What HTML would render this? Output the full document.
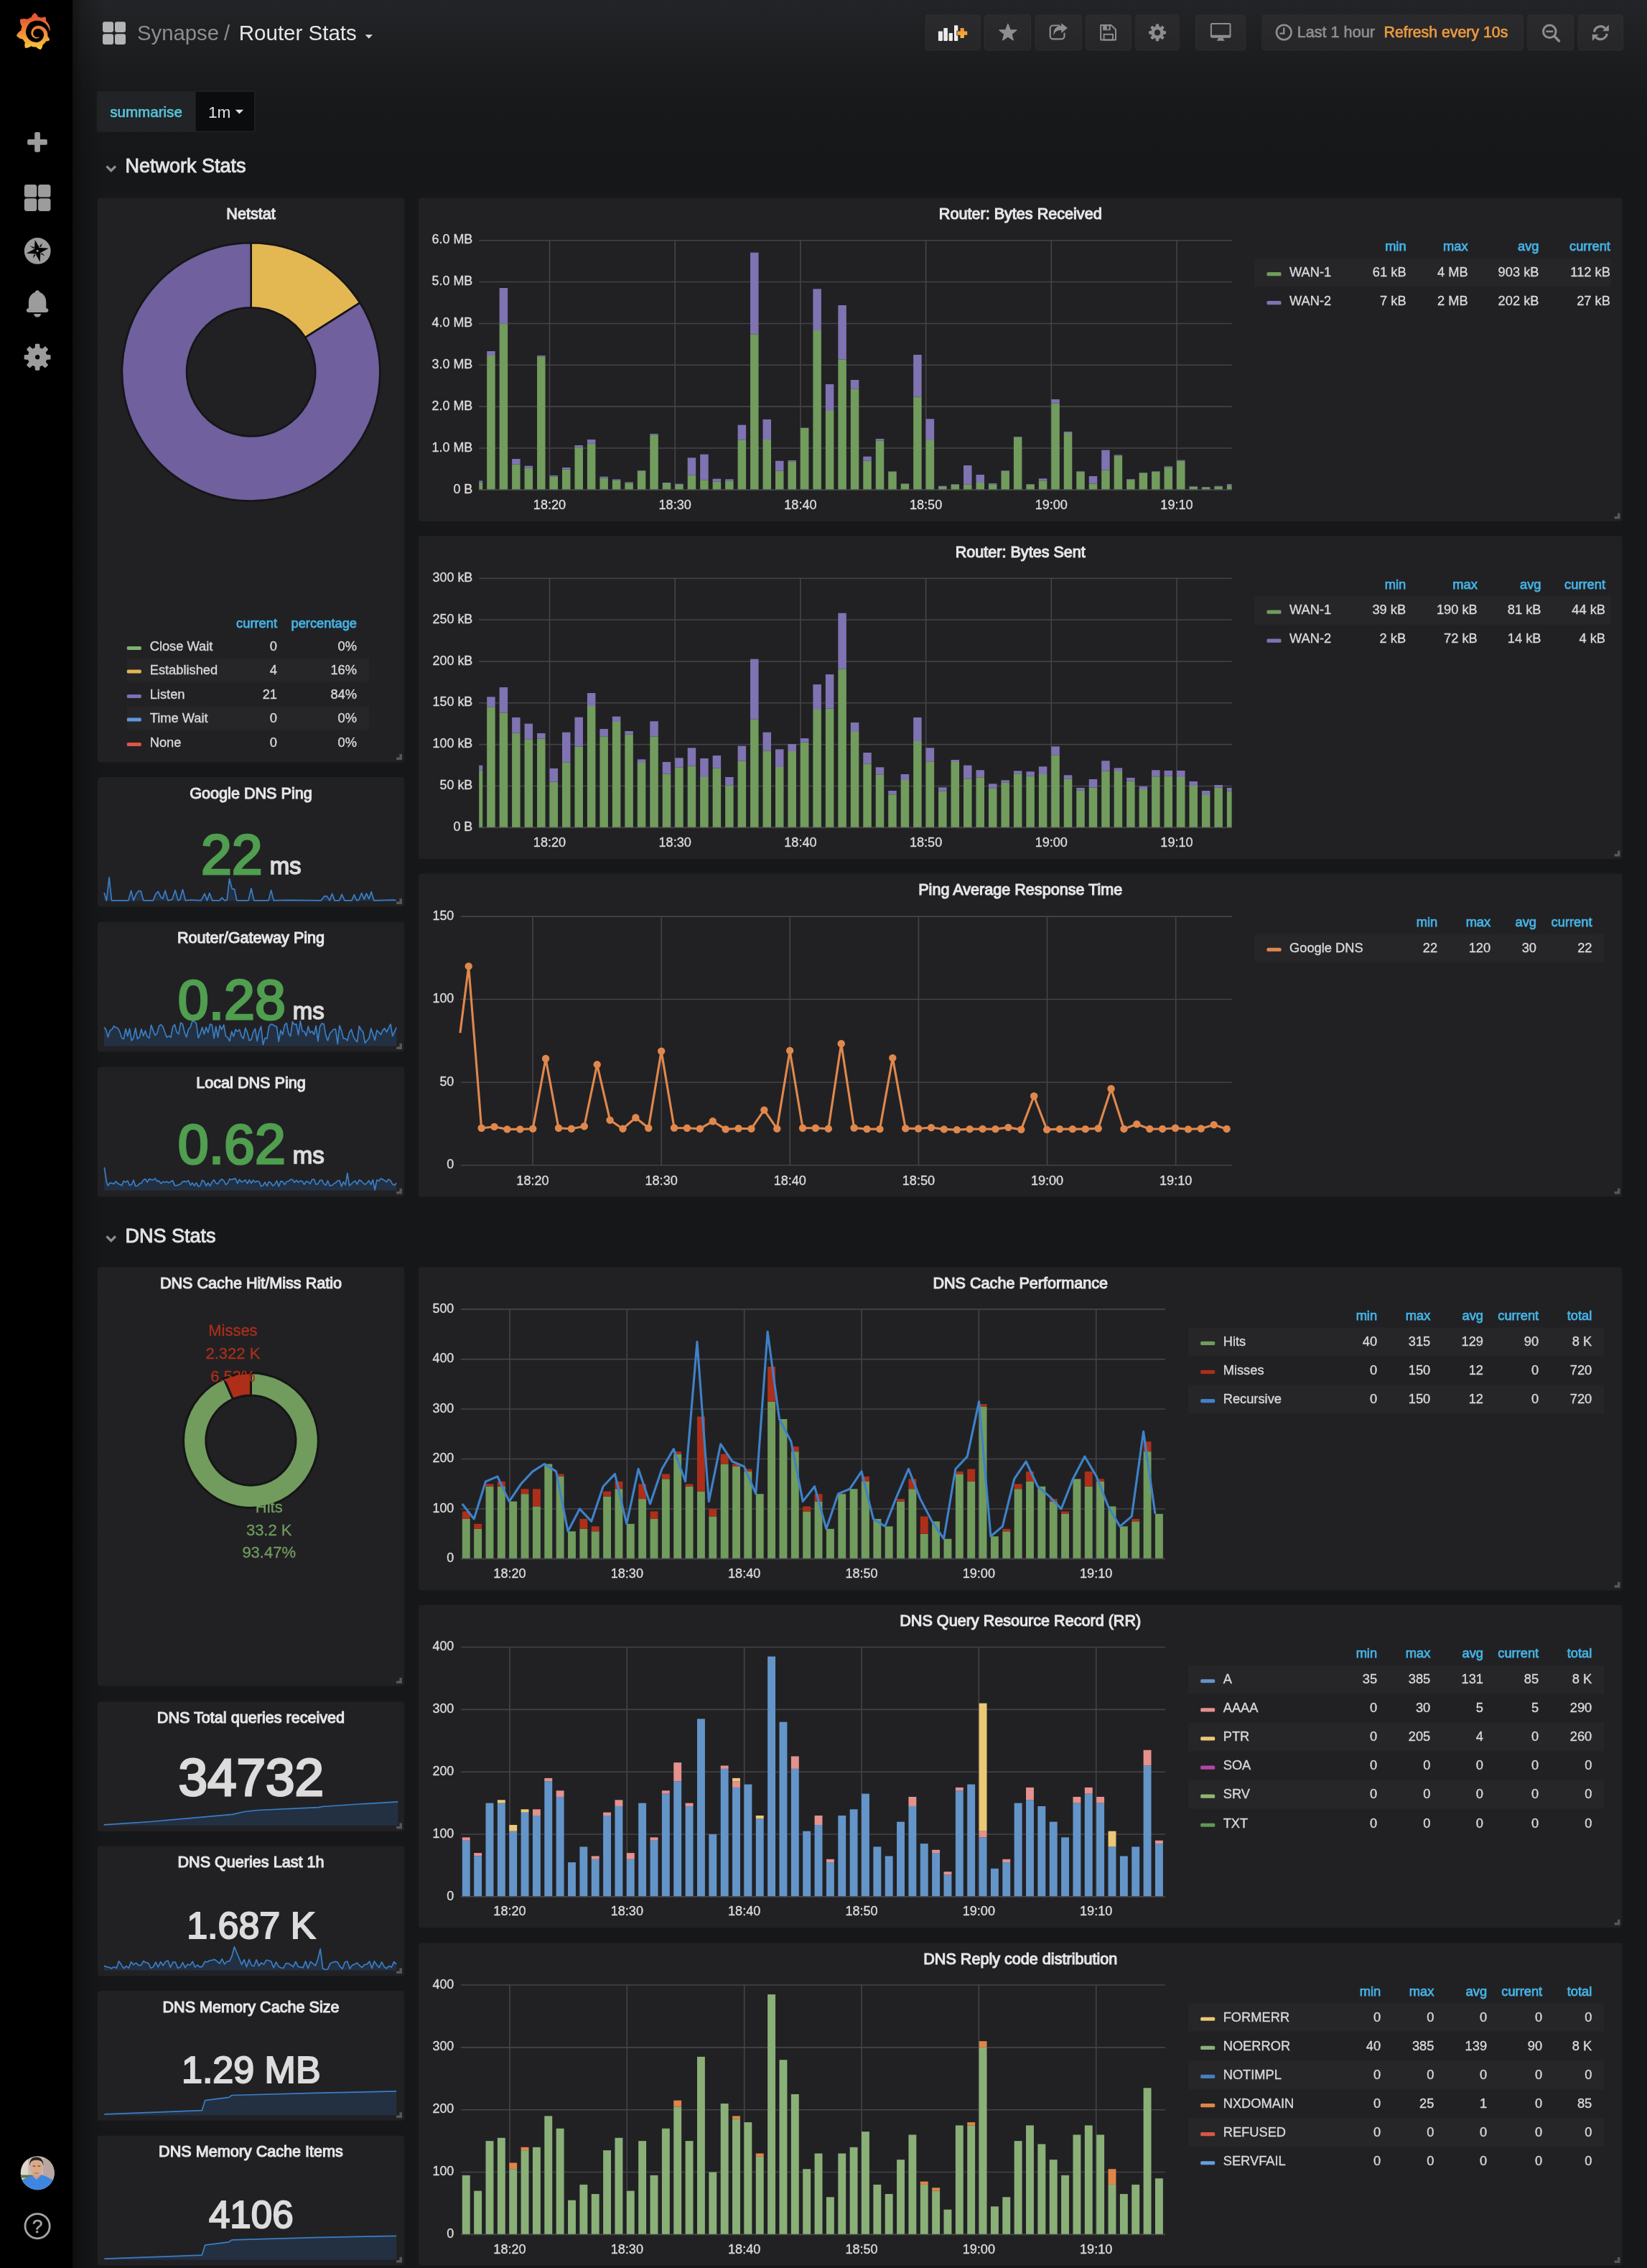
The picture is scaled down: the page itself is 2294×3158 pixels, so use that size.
<!DOCTYPE html><html><head><meta charset="utf-8"><title>Synapse / Router Stats - Grafana</title>
<style>html,body{margin:0;padding:0;}body{width:2294px;height:3158px;overflow:hidden;background:#161719;font-family:"Liberation Sans", sans-serif;position:relative;}
svg{position:absolute;left:0;top:0;will-change:transform;}svg text{font-family:"Liberation Sans", sans-serif;}
#topgrad{position:absolute;left:101px;top:0;width:2193px;height:230px;background:linear-gradient(180deg,#232427 0px,#1d1e20 70px,#18191b 140px,#161719 230px);}
#leftshade{position:absolute;left:101px;top:0;width:46px;height:3158px;background:linear-gradient(90deg,rgba(0,0,0,0.42) 0,rgba(0,0,0,0.18) 14px,rgba(0,0,0,0) 46px);}
#side{position:absolute;left:0;top:0;width:101px;height:3158px;background:#000;}
</style></head><body>
<div id="topgrad"></div><div id="leftshade"></div><div id="side"></div>
<svg width="2294" height="3158" viewBox="0 0 2294 3158">
<defs><linearGradient id="glogo" gradientUnits="userSpaceOnUse" x1="175.5" y1="400" x2="175.5" y2="60"><stop offset="0" stop-color="#fbd83c"/><stop offset="1" stop-color="#e55a33"/></linearGradient><linearGradient id="btng" x1="0" y1="0" x2="0" y2="1"><stop offset="0" stop-color="#2b2b2d"/><stop offset="1" stop-color="#262628"/></linearGradient><linearGradient id="plusg" x1="0" y1="0" x2="0" y2="1"><stop offset="0" stop-color="#ef8e33"/><stop offset="1" stop-color="#f7b645"/></linearGradient><clipPath id="avclip"><circle cx="52.300" cy="3025.700" r="23.500"/></clipPath></defs>
<g transform="translate(21.77 17.94) scale(0.14)"><path d="M342,161.2c-0.6-6.1-1.6-13.1-3.6-20.9c-2-7.7-5-16.2-9.4-25c-4.4-8.8-10.1-17.9-17.5-26.8c-2.9-3.5-6.1-6.9-9.5-10.2c5.1-20.3-6.2-37.9-6.2-37.9c-19.5-1.2-31.9,6.1-36.5,9.4c-0.8-0.3-1.5-0.7-2.3-1c-3.3-1.3-6.7-2.6-10.3-3.7c-3.5-1.1-7.1-2.1-10.8-3c-3.7-0.9-7.4-1.6-11.2-2.2c-0.7-0.1-1.3-0.2-2-0.3c-8.5-27.2-32.9-38.6-32.9-38.6c-27.3,17.3-32.4,41.5-32.4,41.5s-0.1,0.5-0.3,1.4c-1.5,0.4-3,0.9-4.5,1.3c-2.1,0.6-4.2,1.4-6.2,2.2c-2.1,0.8-4.1,1.6-6.2,2.5c-4.1,1.8-8.2,3.8-12.2,6c-3.9,2.2-7.7,4.6-11.4,7.1c-0.5-0.2-1-0.4-1-0.4c-37.8-14.4-71.3,2.9-71.3,2.9c-3.1,40.2,15.1,65.5,18.7,70.1c-0.9,2.5-1.7,5-2.5,7.5c-2.8,9.1-4.9,18.4-6.2,28.1c-0.2,1.4-0.4,2.8-0.5,4.2C18.8,192.7,8.5,228,8.5,228c29.1,33.5,63.1,35.6,63.1,35.6c0,0,0.1-0.1,0.1-0.1c4.3,7.7,9.3,15,14.9,21.9c2.4,2.9,4.8,5.6,7.4,8.3c-10.6,30.4,1.5,55.6,1.5,55.6c32.4,1.2,53.7-14.2,58.2-17.7c3.2,1.1,6.5,2.1,9.8,2.9c10,2.6,20.2,4.1,30.4,4.5c2.5,0.1,5.1,0.2,7.6,0.1l1.2,0l0.8,0l1.6,0l1.6-0.1l0,0.1c15.3,21.8,42.1,24.9,42.1,24.9c19.1-20.1,20.2-40.1,20.2-44.4l0,0c0,0,0-0.1,0-0.3c0-0.4,0-0.6,0-0.6l0,0c0-0.3,0-0.6,0-0.9c4-2.8,7.8-5.8,11.4-9.1c7.6-6.9,14.3-14.8,19.9-23.3c0.5-0.8,1-1.6,1.5-2.4c21.6,1.2,36.9-13.4,36.9-13.4c-3.6-22.5-16.4-33.5-19.1-35.6l0,0c0,0-0.1-0.1-0.3-0.2c-0.2-0.1-0.2-0.2-0.2-0.2c0,0,0,0,0,0c-0.1-0.1-0.3-0.2-0.5-0.3c0.1-1.4,0.2-2.7,0.3-4.1c0.2-2.4,0.2-4.9,0.2-7.3l0-1.8l0-0.9l0-0.5c0-0.6,0-0.4,0-0.6l-0.1-1.5l-0.1-2c0-0.7-0.1-1.3-0.2-1.9c-0.1-0.6-0.1-1.3-0.2-1.9l-0.2-1.9l-0.3-1.9c-0.4-2.5-0.8-4.9-1.4-7.4c-2.3-9.7-6.1-18.9-11-27.2c-5-8.3-11.2-15.6-18.3-21.8c-7-6.2-14.9-11.2-23.1-14.9c-8.3-3.7-16.9-6.1-25.5-7.2c-4.3-0.6-8.6-0.8-12.9-0.7l-1.6,0l-0.4,0c-0.1,0-0.6,0-0.5,0l-0.7,0l-1.6,0.1c-0.6,0-1.2,0.1-1.7,0.1c-2.2,0.2-4.4,0.5-6.5,0.9c-8.6,1.6-16.7,4.7-23.8,9c-7.1,4.3-13.3,9.6-18.3,15.6c-5,6-8.9,12.7-11.6,19.6c-2.7,6.9-4.2,14.1-4.6,21c-0.1,1.7-0.1,3.5-0.1,5.2c0,0.4,0,0.9,0,1.3l0.1,1.4c0.1,0.8,0.1,1.7,0.2,2.5c0.3,3.5,1,6.9,1.9,10.1c1.9,6.5,4.9,12.4,8.6,17.4c3.7,5,8.2,9.1,12.9,12.4c4.7,3.2,9.8,5.5,14.8,7c5,1.5,10,2.1,14.7,2.1c0.6,0,1.2,0,1.7,0c0.3,0,0.6,0,0.9,0c0.3,0,0.6,0,0.9-0.1c0.5,0,1-0.1,1.5-0.1c0.1,0,0.3,0,0.4-0.1l0.5-0.1c0.3,0,0.6-0.1,0.9-0.1c0.6-0.1,1.1-0.2,1.7-0.3c0.6-0.1,1.1-0.2,1.6-0.4c1.1-0.2,2.1-0.6,3.1-0.9c2-0.7,4-1.5,5.7-2.4c1.8-0.9,3.4-2,5-3c0.4-0.3,0.9-0.6,1.3-1c1.6-1.3,1.9-3.7,0.6-5.3c-1.1-1.4-3.1-1.8-4.7-0.9c-0.4,0.2-0.8,0.4-1.2,0.6c-1.4,0.7-2.8,1.3-4.3,1.8c-1.5,0.5-3.1,0.9-4.7,1.2c-0.8,0.1-1.6,0.2-2.5,0.3c-0.4,0-0.8,0.1-1.3,0.1c-0.4,0-0.9,0-1.2,0c-0.4,0-0.8,0-1.2,0c-0.5,0-1,0-1.5-0.1c0,0-0.3,0-0.1,0l-0.2,0l-0.3,0c-0.2,0-0.5,0-0.7-0.1c-0.5-0.1-0.9-0.1-1.4-0.2c-3.7-0.5-7.4-1.6-10.9-3.2c-3.6-1.6-7-3.8-10.1-6.6c-3.1-2.8-5.8-6.1-7.9-9.9c-2.1-3.8-3.6-8-4.3-12.4c-0.3-2.2-0.5-4.5-0.4-6.7c0-0.6,0.1-1.2,0.1-1.8c0,0.2,0-0.1,0-0.1l0-0.2l0-0.5c0-0.3,0.1-0.6,0.1-0.9c0.1-1.2,0.3-2.4,0.5-3.6c1.7-9.6,6.5-19,13.9-26.1c1.9-1.8,3.9-3.4,6-4.9c2.1-1.5,4.4-2.8,6.8-3.9c2.4-1.1,4.8-2,7.4-2.7c2.5-0.7,5.1-1.1,7.8-1.4c1.3-0.1,2.6-0.2,4-0.2c0.4,0,0.6,0,0.9,0l1.1,0l0.7,0c0.3,0,0,0,0.1,0l0.3,0l1.1,0.1c2.9,0.2,5.7,0.6,8.5,1.3c5.6,1.2,11.1,3.3,16.2,6.1c10.2,5.7,18.9,14.5,24.2,25.1c2.7,5.3,4.6,11,5.5,16.9c0.2,1.5,0.4,3,0.5,4.5l0.1,1.1l0.1,1.1c0,0.4,0,0.8,0,1.1c0,0.4,0,0.8,0,1.1l0,1l0,1.1c0,0.7-0.1,1.9-0.1,2.6c-0.1,1.6-0.3,3.3-0.5,4.9c-0.2,1.6-0.5,3.2-0.8,4.8c-0.3,1.6-0.7,3.2-1.1,4.7c-0.8,3.1-1.8,6.2-3,9.3c-2.4,6-5.6,11.8-9.4,17.1c-7.7,10.6-18.2,19.2-30.2,24.7c-6,2.7-12.3,4.7-18.8,5.7c-3.2,0.6-6.5,0.9-9.8,1l-0.6,0l-0.5,0l-1.1,0l-1.6,0l-0.8,0c0.4,0-0.1,0-0.1,0l-0.3,0c-1.8,0-3.5-0.1-5.3-0.3c-7-0.5-13.9-1.8-20.7-3.7c-6.7-1.9-13.2-4.6-19.4-7.8c-12.3-6.6-23.4-15.6-32-26.5c-4.3-5.4-8.1-11.3-11.2-17.4c-3.1-6.1-5.6-12.6-7.4-19.1c-1.8-6.6-2.9-13.3-3.4-20.1l-0.1-1.3l0-0.3l0-0.3l0-0.6l0-1.1l0-0.3l0-0.4l0-0.8l0-1.6l0-0.3c0,0,0,0.1,0-0.1l0-0.6c0-0.8,0-1.7,0-2.5c0.1-3.3,0.4-6.8,0.8-10.2c0.4-3.4,1-6.9,1.7-10.3c0.7-3.4,1.5-6.8,2.5-10.2c1.9-6.7,4.3-13.2,7.1-19.3c5.7-12.2,13.1-23.1,22-31.8c2.2-2.2,4.5-4.2,6.9-6.2c2.4-1.9,4.9-3.7,7.5-5.4c2.5-1.7,5.2-3.2,7.9-4.6c1.3-0.7,2.7-1.4,4.1-2c0.7-0.3,1.4-0.6,2.1-0.9c0.7-0.3,1.4-0.6,2.1-0.9c2.8-1.2,5.7-2.2,8.7-3.1c0.7-0.2,1.5-0.4,2.2-0.7c0.7-0.2,1.5-0.4,2.2-0.6c1.5-0.4,3-0.8,4.5-1.1c0.7-0.2,1.5-0.3,2.3-0.5c0.8-0.2,1.5-0.3,2.3-0.5c0.8-0.1,1.5-0.3,2.3-0.4l1.1-0.2l1.2-0.2c0.8-0.1,1.5-0.2,2.3-0.3c0.9-0.1,1.7-0.2,2.6-0.3c0.7-0.1,1.9-0.2,2.6-0.3c0.5-0.1,1.1-0.1,1.6-0.2l1.1-0.1l0.5-0.1l0.6,0c0.9-0.1,1.7-0.1,2.6-0.2l1.3-0.1c0,0,0.5,0,0.1,0l0.3,0l0.6,0c0.7,0,1.5-0.1,2.2-0.1c2.9-0.1,5.9-0.1,8.8,0c5.8,0.2,11.5,0.9,17,1.9c11.1,2.1,21.5,5.6,31,10.3c9.5,4.6,17.9,10.3,25.3,16.5c0.5,0.4,0.9,0.8,1.4,1.2c0.4,0.4,0.9,0.8,1.3,1.2c0.9,0.8,1.7,1.6,2.6,2.4c0.9,0.8,1.7,1.6,2.5,2.4c0.8,0.8,1.6,1.6,2.4,2.5c3.1,3.3,6,6.6,8.6,10c5.2,6.7,9.4,13.5,12.7,19.9c0.2,0.4,0.4,0.8,0.6,1.2c0.2,0.4,0.4,0.8,0.6,1.2c0.4,0.8,0.8,1.6,1.1,2.4c0.4,0.8,0.7,1.5,1.1,2.3c0.3,0.8,0.7,1.5,1,2.3c1.2,3,2.4,5.9,3.3,8.6c1.5,4.4,2.6,8.3,3.5,11.7c0.3,1.4,1.6,2.3,3,2.1c1.5-0.1,2.6-1.3,2.6-2.8C342.6,170.4,342.5,166.1,342,161.2z" fill="url(#glogo)"/></g>
<rect x="38.2" y="193.9" width="27.6" height="7.9" rx="1.8" fill="#9c9c9c"/><rect x="48.2" y="184.1" width="7.7" height="27.6" rx="1.8" fill="#9c9c9c"/>
<rect x="33.9" y="257" width="17.4" height="17.6" rx="3.4" fill="#9c9c9c"/>
<rect x="53.1" y="257" width="17.4" height="17.6" rx="3.4" fill="#9c9c9c"/>
<rect x="33.9" y="276.3" width="17.4" height="17.6" rx="3.4" fill="#9c9c9c"/>
<rect x="53.1" y="276.3" width="17.4" height="17.6" rx="3.4" fill="#9c9c9c"/>
<circle cx="52.2" cy="349.4" r="18.4" fill="#9c9c9c"/>
<path d="M48.77 334.12L54.98 345.05L67.76 345.7L56.37 351.99L55.72 364.68L49.51 353.57L36.74 352.64L47.85 346.81Z" fill="#000"/>
<path d="M58.96 338.75L54.79 342.73L56.92 344.21Z" fill="#000"/>
<path d="M62.48 355.88L58.03 351.99L57.11 354.03Z" fill="#000"/>
<path d="M45.81 359.77L49.51 355.23L47.39 354.03Z" fill="#000"/>
<path d="M41.83 342.46L46.92 346.16L47.66 344.31Z" fill="#000"/>
<circle cx="52.2" cy="349.4" r="1.4" fill="#9c9c9c"/>
<path d="M52.1 404.2c1.7 0 3 1.2 3.2 2.9c5.6 1.9 9 7 9 13.9v8.3h0.4c1.5 0 2.7 1.2 2.7 2.8s-1.2 2.9-2.7 2.9h-25.2c-1.5 0-2.7-1.3-2.7-2.9s1.2-2.8 2.7-2.8h0.4v-8.3c0-6.9 3.4-12 9-13.9c0.2-1.7 1.5-2.9 3.2-2.9z" fill="#9c9c9c"/>
<path d="M47.2 436.9h9.8a4.9 4.9 0 0 1-9.8 0z" fill="#9c9c9c"/>
<path d="M49.21 484.83L49.72 479.56L54.48 479.56L54.99 484.83L58.87 486.44L62.96 483.07L66.33 486.44L62.96 490.53L64.57 494.41L69.84 494.92L69.84 499.68L64.57 500.19L62.96 504.07L66.33 508.16L62.96 511.53L58.87 508.16L54.99 509.77L54.48 515.04L49.72 515.04L49.21 509.77L45.33 508.16L41.24 511.53L37.87 508.16L41.24 504.07L39.63 500.19L34.36 499.68L34.36 494.92L39.63 494.41L41.24 490.53L37.87 486.44L41.24 483.07L45.33 486.44ZM48.2 497.3a3.9 3.9 0 1 0 7.8 0a3.9 3.9 0 1 0 -7.8 0Z" fill="#9c9c9c" fill-rule="evenodd" stroke="#9c9c9c" stroke-width="1.4" stroke-linejoin="round"/>
<g clip-path="url(#avclip)"><rect x="28" y="3001" width="49" height="50" fill="#c9bcb6"/><rect x="28" y="3001" width="11" height="50" fill="#ddd6cf"/><rect x="60" y="3006" width="17" height="30" fill="#b9a6a2"/><rect x="28" y="3028.500" width="18" height="4" fill="#5d7a3e"/><path d="M28 3052v-14c5-5 10-6.500 16.500-8.500l6.500 3l6.500-4.500c7 2.500 13 5 19.500 10v14z" fill="#3f86e0"/><path d="M45.500 3029.500l5 5.500l6-5.500l-1-6h-9z" fill="#cf9f80"/><ellipse cx="50.600" cy="3018.300" rx="8.600" ry="11" fill="#d9a988"/><path d="M41.300 3016c-0.800-9 3.500-12.600 9.300-12.600s10.400 3.400 9.600 12.600c-1.200-6.500-3.500-8.300-9.600-8.300s-8.300 2-9.300 8.300z" fill="#2b2320"/><path d="M45.800 3016.200h3.600M52.600 3016.200h3.600" stroke="#5a4136" stroke-width="1.200"/><path d="M48 3025.500c1.800 1 3.800 1 5.600 0" stroke="#8a5a48" stroke-width="1" fill="none"/></g>
<circle cx="52.100" cy="3099.700" r="17.100" fill="none" stroke="#a6a6a6" stroke-width="2.800"/>
<text x="52.100" y="3109.200" font-size="26.500" fill="#a6a6a6" stroke="#a6a6a6" stroke-width="0.5" text-anchor="middle">?</text>
<rect x="143" y="30.3" width="15" height="14.8" rx="3" fill="#b4b4b4"/>
<rect x="160" y="30.3" width="15" height="14.8" rx="3" fill="#b4b4b4"/>
<rect x="143" y="47.3" width="15" height="14.8" rx="3" fill="#b4b4b4"/>
<rect x="160" y="47.3" width="15" height="14.8" rx="3" fill="#b4b4b4"/>
<text x="191" y="56.2" font-size="29.3" fill="#8e8e8e">Synapse</text><text x="312" y="56.2" font-size="29.3" fill="#8e8e8e">/</text>
<text x="332.800" y="56.2" font-size="29.5" fill="#e6e6e6">Router Stats</text>
<path d="M508.600 48.3h10.400l-5.200 5.400z" fill="#d8d9da"/>
<rect x="1289.2" y="20.8" width="76" height="49" rx="3.5" fill="url(#btng)" stroke="#2f2f32" stroke-width="1"/>
<rect x="1371.5" y="20.8" width="64" height="49" rx="3.5" fill="url(#btng)" stroke="#2f2f32" stroke-width="1"/>
<rect x="1442.2" y="20.8" width="64" height="49" rx="3.5" fill="url(#btng)" stroke="#2f2f32" stroke-width="1"/>
<rect x="1512.8" y="20.8" width="62.4" height="49" rx="3.5" fill="url(#btng)" stroke="#2f2f32" stroke-width="1"/>
<rect x="1581.8" y="20.8" width="60.4" height="49" rx="3.5" fill="url(#btng)" stroke="#2f2f32" stroke-width="1"/>
<rect x="1665.5" y="20.8" width="69" height="49" rx="3.5" fill="url(#btng)" stroke="#2f2f32" stroke-width="1"/>
<rect x="1758" y="20.8" width="363.2" height="49" rx="3.5" fill="url(#btng)" stroke="#2f2f32" stroke-width="1"/>
<rect x="2127.8" y="20.8" width="63.7" height="49" rx="3.5" fill="url(#btng)" stroke="#2f2f32" stroke-width="1"/>
<rect x="2198.2" y="20.8" width="62.3" height="49" rx="3.5" fill="url(#btng)" stroke="#2f2f32" stroke-width="1"/>
<rect x="1306.9" y="43.4" width="6" height="13.5" rx="0.8" fill="#ececec"/>
<rect x="1314.3" y="39" width="5.6" height="17.9" rx="0.8" fill="#ececec"/>
<rect x="1321.6" y="46" width="5.3" height="10.9" rx="0.8" fill="#ececec"/>
<rect x="1329" y="35.3" width="5.3" height="21.6" rx="0.8" fill="#ececec"/>
<path d="M1337.550 39.100h5.300v4.350h4.350v5.300h-4.350v4.350h-5.300v-4.350h-4.350v-5.300h4.350z" fill="url(#plusg)" stroke="#29292b" stroke-width="1.6" paint-order="stroke"/>
<path d="M1403.9 33.2L1407.02 41.51L1415.88 41.91L1408.94 47.44L1411.31 55.99L1403.9 51.1L1396.49 55.99L1398.86 47.44L1391.92 41.91L1400.78 41.51Z" fill="#8e8e8e" stroke="#8e8e8e" stroke-width="1.2" stroke-linejoin="round"/>
<path d="M1475.500 35.500h-8.800a4 4 0 0 0-4 4v10.800a4 4 0 0 0 4 4h11.800a4 4 0 0 0 4-4v-3.800" fill="none" stroke="#8e8e8e" stroke-width="2.2" stroke-linecap="round"/>
<path d="M1478.200 32.300l8.800 6.800l-8.800 6.800v-3.900c-5.500-0.300-9 1.700-10.600 7.600c-1.100-8.400 3.100-13.100 10.600-13.500z" fill="#8e8e8e"/>
<path d="M1533.200 35.100h14.600l6.200 6.200v14.300h-20.800z" fill="none" stroke="#8e8e8e" stroke-width="2" stroke-linejoin="round"/>
<path d="M1536.200 35.100h10.600v7.200h-10.600z M1541.700 36.300v4.400h2.900v-4.400z" fill="#8e8e8e" fill-rule="evenodd"/>
<rect x="1537.600" y="47.800" width="12.400" height="7.800" fill="none" stroke="#8e8e8e" stroke-width="1.900"/>
<path d="M1610.04 37.23L1610.37 33.92L1613.63 33.92L1613.96 37.23L1616.39 38.24L1618.96 36.12L1621.28 38.44L1619.16 41.01L1620.17 43.44L1623.48 43.77L1623.48 47.03L1620.17 47.36L1619.16 49.79L1621.28 52.36L1618.96 54.68L1616.39 52.56L1613.96 53.57L1613.63 56.88L1610.37 56.88L1610.04 53.57L1607.61 52.56L1605.04 54.68L1602.72 52.36L1604.84 49.79L1603.83 47.36L1600.52 47.03L1600.52 43.77L1603.83 43.44L1604.84 41.01L1602.72 38.44L1605.04 36.12L1607.61 38.24ZM1607.4 45.4a4.6 4.6 0 1 0 9.2 0a4.6 4.6 0 1 0 -9.2 0Z" fill="#8e8e8e" fill-rule="evenodd" stroke="#8e8e8e" stroke-width="1" stroke-linejoin="round"/>
<path d="M1688.200 32h24a2.300 2.300 0 0 1 2.300 2.300v16.100a2.300 2.300 0 0 1-2.300 2.300h-24a2.300 2.300 0 0 1-2.300-2.300v-16.100a2.300 2.300 0 0 1 2.300-2.300zM1687.900 34v14.700h24.600v-14.700z" fill="#8e8e8e" fill-rule="evenodd"/>
<path d="M1697 52.500h6.500l1 3h1v1.300h-10.500v-1.300h1z" fill="#8e8e8e"/>
<circle cx="1788.300" cy="45" r="10.300" fill="none" stroke="#8e8e8e" stroke-width="2.600"/>
<path d="M1788.300 38.600v8h-5.800" fill="none" stroke="#8e8e8e" stroke-width="2.300"/>
<text x="1806.800" y="52.300" font-size="21.600" fill="#8e8e8e" stroke="#8e8e8e" stroke-width="0.7">Last 1 hour</text>
<text x="1927.500" y="52.300" font-size="21.300" fill="#eb9a3f" stroke="#eb9a3f" stroke-width="0.7">Refresh every 10s</text>
<circle cx="2158.300" cy="43.800" r="8.800" fill="none" stroke="#8e8e8e" stroke-width="3"/>
<path d="M2164.800 50.300l6.600 6.600" stroke="#8e8e8e" stroke-width="3.600" stroke-linecap="round"/>
<rect x="2153.300" y="42.500" width="10" height="2.600" fill="#8e8e8e"/>
<path d="M2220.4 44.5A8.9 8.9 0 0 1 2235.71 39.56" fill="none" stroke="#8e8e8e" stroke-width="3.2"/>
<path d="M2238.2 46.9A8.9 8.9 0 0 1 2222.89 51.84" fill="none" stroke="#8e8e8e" stroke-width="3.2"/>
<path d="M2240.800 34.500v8.800h-8.800z" fill="#8e8e8e"/>
<path d="M2217.800 56.900v-8.800h8.800z" fill="#8e8e8e"/>
<rect x="134.700" y="126.700" width="138" height="57" rx="3" fill="#212327"/>
<rect x="272" y="127.200" width="82.800" height="56" rx="2" fill="#0b0c0e" stroke="#262628" stroke-width="1.200"/>
<text x="203.500" y="163" font-size="20.600" fill="#56c7d9" stroke="#56c7d9" stroke-width="0.6" text-anchor="middle">summarise</text>
<text x="290" y="164.300" font-size="22.600" fill="#e3e3e3">1m</text>
<path d="M327.700 152.800h11.400l-5.700 5.800z" fill="#e3e3e3"/>
<path d="M148.500 231.5l6.200 6.200l6.200-6.200" fill="none" stroke="#8e8e8e" stroke-width="3.200" stroke-linejoin="miter"/>
<text x="174.500" y="239.6" font-size="27" fill="#e3e3e3" stroke="#e3e3e3" stroke-width="0.9">Network Stats</text>
<path d="M148.500 1721.5l6.200 6.200l6.200-6.200" fill="none" stroke="#8e8e8e" stroke-width="3.200" stroke-linejoin="miter"/>
<text x="174.500" y="1729.6" font-size="27" fill="#e3e3e3" stroke="#e3e3e3" stroke-width="0.9">DNS Stats</text>
<rect x="136" y="275.5" width="427" height="786" fill="#212124" rx="3.5"/>
<text x="349.5" y="305.1" font-size="21.6" fill="#e6e6e6" text-anchor="middle" font-weight="normal" stroke="#e6e6e6" stroke-width="1.1" >Netstat</text>
<path d="M559.9 1057.9v-7.8h-3.5v4.300h-4.300v3.500z" fill="#58585b"/>
<rect x="136" y="1082" width="427" height="180.6" fill="#212124" rx="3.5"/>
<text x="349.5" y="1111.6" font-size="21.6" fill="#e6e6e6" text-anchor="middle" font-weight="normal" stroke="#e6e6e6" stroke-width="1.1" >Google DNS Ping</text>
<path d="M559.9 1259v-7.8h-3.5v4.300h-4.300v3.500z" fill="#58585b"/>
<rect x="136" y="1283.8" width="427" height="180.7" fill="#212124" rx="3.5"/>
<text x="349.5" y="1313.4" font-size="21.6" fill="#e6e6e6" text-anchor="middle" font-weight="normal" stroke="#e6e6e6" stroke-width="1.1" >Router/Gateway Ping</text>
<path d="M559.9 1460.9v-7.8h-3.5v4.300h-4.300v3.500z" fill="#58585b"/>
<rect x="136" y="1485.5" width="427" height="180.7" fill="#212124" rx="3.5"/>
<text x="349.5" y="1515.1" font-size="21.6" fill="#e6e6e6" text-anchor="middle" font-weight="normal" stroke="#e6e6e6" stroke-width="1.1" >Local DNS Ping</text>
<path d="M559.9 1662.6v-7.8h-3.5v4.300h-4.300v3.500z" fill="#58585b"/>
<rect x="136" y="1764.3" width="427" height="583.3" fill="#212124" rx="3.5"/>
<text x="349.5" y="1793.9" font-size="21.6" fill="#e6e6e6" text-anchor="middle" font-weight="normal" stroke="#e6e6e6" stroke-width="1.1" >DNS Cache Hit/Miss Ratio</text>
<path d="M559.9 2344v-7.8h-3.5v4.300h-4.300v3.500z" fill="#58585b"/>
<rect x="136" y="2369.2" width="427" height="180.8" fill="#212124" rx="3.5"/>
<text x="349.5" y="2398.8" font-size="21.6" fill="#e6e6e6" text-anchor="middle" font-weight="normal" stroke="#e6e6e6" stroke-width="1.1" >DNS Total queries received</text>
<path d="M559.9 2546.4v-7.8h-3.5v4.300h-4.300v3.500z" fill="#58585b"/>
<rect x="136" y="2570.6" width="427" height="181" fill="#212124" rx="3.5"/>
<text x="349.5" y="2600.2" font-size="21.6" fill="#e6e6e6" text-anchor="middle" font-weight="normal" stroke="#e6e6e6" stroke-width="1.1" >DNS Queries Last 1h</text>
<path d="M559.9 2748v-7.8h-3.5v4.300h-4.300v3.500z" fill="#58585b"/>
<rect x="136" y="2772" width="427" height="180.7" fill="#212124" rx="3.5"/>
<text x="349.5" y="2801.6" font-size="21.6" fill="#e6e6e6" text-anchor="middle" font-weight="normal" stroke="#e6e6e6" stroke-width="1.1" >DNS Memory Cache Size</text>
<path d="M559.9 2949.1v-7.8h-3.5v4.300h-4.300v3.500z" fill="#58585b"/>
<rect x="136" y="2973.5" width="427" height="180.7" fill="#212124" rx="3.5"/>
<text x="349.5" y="3003.1" font-size="21.6" fill="#e6e6e6" text-anchor="middle" font-weight="normal" stroke="#e6e6e6" stroke-width="1.1" >DNS Memory Cache Items</text>
<path d="M559.9 3150.6v-7.8h-3.5v4.300h-4.300v3.500z" fill="#58585b"/>
<rect x="583" y="275.5" width="1676.5" height="450.5" fill="#212124" rx="3.5"/>
<text x="1421.25" y="305.1" font-size="21.6" fill="#e6e6e6" text-anchor="middle" font-weight="normal" stroke="#e6e6e6" stroke-width="1.1" >Router: Bytes Received</text>
<path d="M2256.4 722.4v-7.8h-3.5v4.300h-4.300v3.500z" fill="#58585b"/>
<rect x="583" y="746" width="1676.5" height="450" fill="#212124" rx="3.5"/>
<text x="1421.25" y="775.6" font-size="21.6" fill="#e6e6e6" text-anchor="middle" font-weight="normal" stroke="#e6e6e6" stroke-width="1.1" >Router: Bytes Sent</text>
<path d="M2256.4 1192.4v-7.8h-3.5v4.300h-4.300v3.500z" fill="#58585b"/>
<rect x="583" y="1216.2" width="1676.5" height="450" fill="#212124" rx="3.5"/>
<text x="1421.25" y="1245.8" font-size="21.6" fill="#e6e6e6" text-anchor="middle" font-weight="normal" stroke="#e6e6e6" stroke-width="1.1" >Ping Average Response Time</text>
<path d="M2256.4 1662.6v-7.8h-3.5v4.300h-4.300v3.500z" fill="#58585b"/>
<rect x="583" y="1764.3" width="1676.5" height="450" fill="#212124" rx="3.5"/>
<text x="1421.25" y="1793.9" font-size="21.6" fill="#e6e6e6" text-anchor="middle" font-weight="normal" stroke="#e6e6e6" stroke-width="1.1" >DNS Cache Performance</text>
<path d="M2256.4 2210.7v-7.8h-3.5v4.300h-4.300v3.500z" fill="#58585b"/>
<rect x="583" y="2234.7" width="1676.5" height="449.5" fill="#212124" rx="3.5"/>
<text x="1421.25" y="2264.3" font-size="21.6" fill="#e6e6e6" text-anchor="middle" font-weight="normal" stroke="#e6e6e6" stroke-width="1.1" >DNS Query Resource Record (RR)</text>
<path d="M2256.4 2680.6v-7.8h-3.5v4.300h-4.300v3.500z" fill="#58585b"/>
<rect x="583" y="2705.2" width="1676.5" height="449.3" fill="#212124" rx="3.5"/>
<text x="1421.25" y="2734.8" font-size="21.6" fill="#e6e6e6" text-anchor="middle" font-weight="normal" stroke="#e6e6e6" stroke-width="1.1" >DNS Reply code distribution</text>
<path d="M2256.4 3150.9v-7.8h-3.5v4.300h-4.300v3.500z" fill="#58585b"/>
<line x1="667.2" y1="681.9" x2="1715.6" y2="681.9" stroke="#444447" stroke-width="1.6"/>
<text x="658.3" y="686.5" font-size="17.9" fill="#dcdcdc" text-anchor="end" font-weight="normal" stroke="#dcdcdc" stroke-width="0.35" >0 B</text>
<line x1="667.2" y1="624.03" x2="1715.6" y2="624.03" stroke="#444447" stroke-width="1.6"/>
<text x="658.3" y="628.63" font-size="17.9" fill="#dcdcdc" text-anchor="end" font-weight="normal" stroke="#dcdcdc" stroke-width="0.35" >1.0 MB</text>
<line x1="667.2" y1="566.17" x2="1715.6" y2="566.17" stroke="#444447" stroke-width="1.6"/>
<text x="658.3" y="570.77" font-size="17.9" fill="#dcdcdc" text-anchor="end" font-weight="normal" stroke="#dcdcdc" stroke-width="0.35" >2.0 MB</text>
<line x1="667.2" y1="508.3" x2="1715.6" y2="508.3" stroke="#444447" stroke-width="1.6"/>
<text x="658.3" y="512.9" font-size="17.9" fill="#dcdcdc" text-anchor="end" font-weight="normal" stroke="#dcdcdc" stroke-width="0.35" >3.0 MB</text>
<line x1="667.2" y1="450.43" x2="1715.6" y2="450.43" stroke="#444447" stroke-width="1.6"/>
<text x="658.3" y="455.03" font-size="17.9" fill="#dcdcdc" text-anchor="end" font-weight="normal" stroke="#dcdcdc" stroke-width="0.35" >4.0 MB</text>
<line x1="667.2" y1="392.57" x2="1715.6" y2="392.57" stroke="#444447" stroke-width="1.6"/>
<text x="658.3" y="397.17" font-size="17.9" fill="#dcdcdc" text-anchor="end" font-weight="normal" stroke="#dcdcdc" stroke-width="0.35" >5.0 MB</text>
<line x1="667.2" y1="334.7" x2="1715.6" y2="334.7" stroke="#444447" stroke-width="1.6"/>
<text x="658.3" y="339.3" font-size="17.9" fill="#dcdcdc" text-anchor="end" font-weight="normal" stroke="#dcdcdc" stroke-width="0.35" >6.0 MB</text>
<line x1="765.5" y1="334.7" x2="765.5" y2="681.9" stroke="#444447" stroke-width="1.6"/>
<text x="765.5" y="709.1" font-size="18.1" fill="#dcdcdc" text-anchor="middle" font-weight="normal" stroke="#dcdcdc" stroke-width="0.35" >18:20</text>
<line x1="940.2" y1="334.7" x2="940.2" y2="681.9" stroke="#444447" stroke-width="1.6"/>
<text x="940.2" y="709.1" font-size="18.1" fill="#dcdcdc" text-anchor="middle" font-weight="normal" stroke="#dcdcdc" stroke-width="0.35" >18:30</text>
<line x1="1114.9" y1="334.7" x2="1114.9" y2="681.9" stroke="#444447" stroke-width="1.6"/>
<text x="1114.9" y="709.1" font-size="18.1" fill="#dcdcdc" text-anchor="middle" font-weight="normal" stroke="#dcdcdc" stroke-width="0.35" >18:40</text>
<line x1="1289.6" y1="334.7" x2="1289.6" y2="681.9" stroke="#444447" stroke-width="1.6"/>
<text x="1289.6" y="709.1" font-size="18.1" fill="#dcdcdc" text-anchor="middle" font-weight="normal" stroke="#dcdcdc" stroke-width="0.35" >18:50</text>
<line x1="1464.3" y1="334.7" x2="1464.3" y2="681.9" stroke="#444447" stroke-width="1.6"/>
<text x="1464.3" y="709.1" font-size="18.1" fill="#dcdcdc" text-anchor="middle" font-weight="normal" stroke="#dcdcdc" stroke-width="0.35" >19:00</text>
<line x1="1639" y1="334.7" x2="1639" y2="681.9" stroke="#444447" stroke-width="1.6"/>
<text x="1639" y="709.1" font-size="18.1" fill="#dcdcdc" text-anchor="middle" font-weight="normal" stroke="#dcdcdc" stroke-width="0.35" >19:10</text>
<clipPath id="c1"><rect x="667.2" y="314.7" width="1048.4" height="367.8"/></clipPath><g clip-path="url(#c1)">
<rect x="660.7" y="671.67" width="11.5" height="10.67" fill="#719c5d" />
<rect x="660.7" y="669.33" width="11.5" height="2.33" fill="#7f73b1" />
<rect x="678.17" y="495" width="11.5" height="187.33" fill="#719c5d" />
<rect x="678.17" y="489" width="11.5" height="6" fill="#7f73b1" />
<rect x="695.64" y="450.67" width="11.5" height="231.67" fill="#719c5d" />
<rect x="695.64" y="401" width="11.5" height="49.67" fill="#7f73b1" />
<rect x="713.11" y="646.67" width="11.5" height="35.67" fill="#719c5d" />
<rect x="713.11" y="639" width="11.5" height="7.67" fill="#7f73b1" />
<rect x="730.58" y="651.67" width="11.5" height="30.67" fill="#719c5d" />
<rect x="730.58" y="648.67" width="11.5" height="3" fill="#7f73b1" />
<rect x="748.05" y="496.33" width="11.5" height="186" fill="#719c5d" />
<rect x="748.05" y="495" width="11.5" height="1.33" fill="#7f73b1" />
<rect x="765.52" y="663.67" width="11.5" height="18.67" fill="#719c5d" />
<rect x="765.52" y="662" width="11.5" height="1.67" fill="#7f73b1" />
<rect x="782.99" y="653.67" width="11.5" height="28.67" fill="#719c5d" />
<rect x="782.99" y="651" width="11.5" height="2.67" fill="#7f73b1" />
<rect x="800.46" y="622.67" width="11.5" height="59.67" fill="#719c5d" />
<rect x="800.46" y="620" width="11.5" height="2.67" fill="#7f73b1" />
<rect x="817.93" y="617.33" width="11.5" height="65" fill="#719c5d" />
<rect x="817.93" y="612" width="11.5" height="5.33" fill="#7f73b1" />
<rect x="835.4" y="665.67" width="11.5" height="16.67" fill="#719c5d" />
<rect x="835.4" y="663.67" width="11.5" height="2" fill="#7f73b1" />
<rect x="852.87" y="668.67" width="11.5" height="13.67" fill="#719c5d" />
<rect x="852.87" y="667.33" width="11.5" height="1.33" fill="#7f73b1" />
<rect x="870.34" y="672.33" width="11.5" height="10" fill="#719c5d" />
<rect x="870.34" y="671.33" width="11.5" height="1" fill="#7f73b1" />
<rect x="887.81" y="655.67" width="11.5" height="26.67" fill="#719c5d" />
<rect x="887.81" y="655" width="11.5" height="0.67" fill="#7f73b1" />
<rect x="905.28" y="605.33" width="11.5" height="77" fill="#719c5d" />
<rect x="905.28" y="604" width="11.5" height="1.33" fill="#7f73b1" />
<rect x="922.75" y="673" width="11.5" height="9.33" fill="#719c5d" />
<rect x="922.75" y="672" width="11.5" height="1" fill="#7f73b1" />
<rect x="940.22" y="675" width="11.5" height="7.33" fill="#719c5d" />
<rect x="940.22" y="673.67" width="11.5" height="1.33" fill="#7f73b1" />
<rect x="957.69" y="661.67" width="11.5" height="20.67" fill="#719c5d" />
<rect x="957.69" y="637.33" width="11.5" height="24.33" fill="#7f73b1" />
<rect x="975.16" y="668.33" width="11.5" height="14" fill="#719c5d" />
<rect x="975.16" y="632.67" width="11.5" height="35.67" fill="#7f73b1" />
<rect x="992.63" y="670.67" width="11.5" height="11.67" fill="#719c5d" />
<rect x="992.63" y="666.67" width="11.5" height="4" fill="#7f73b1" />
<rect x="1010.1" y="669.67" width="11.5" height="12.67" fill="#719c5d" />
<rect x="1010.1" y="667.33" width="11.5" height="2.33" fill="#7f73b1" />
<rect x="1027.57" y="612.67" width="11.5" height="69.67" fill="#719c5d" />
<rect x="1027.57" y="591.67" width="11.5" height="21" fill="#7f73b1" />
<rect x="1045.04" y="465.33" width="11.5" height="217" fill="#719c5d" />
<rect x="1045.04" y="351.67" width="11.5" height="113.67" fill="#7f73b1" />
<rect x="1062.51" y="612" width="11.5" height="70.33" fill="#719c5d" />
<rect x="1062.51" y="584" width="11.5" height="28" fill="#7f73b1" />
<rect x="1079.98" y="655.67" width="11.5" height="26.67" fill="#719c5d" />
<rect x="1079.98" y="641.67" width="11.5" height="14" fill="#7f73b1" />
<rect x="1097.45" y="642.67" width="11.5" height="39.67" fill="#719c5d" />
<rect x="1097.45" y="641" width="11.5" height="1.67" fill="#7f73b1" />
<rect x="1114.92" y="596" width="11.5" height="86.33" fill="#719c5d" />
<rect x="1114.92" y="595.67" width="11.5" height="0.33" fill="#7f73b1" />
<rect x="1132.39" y="460" width="11.5" height="222.33" fill="#719c5d" />
<rect x="1132.39" y="402.33" width="11.5" height="57.67" fill="#7f73b1" />
<rect x="1149.86" y="572" width="11.5" height="110.33" fill="#719c5d" />
<rect x="1149.86" y="535" width="11.5" height="37" fill="#7f73b1" />
<rect x="1167.33" y="500.67" width="11.5" height="181.67" fill="#719c5d" />
<rect x="1167.33" y="425" width="11.5" height="75.67" fill="#7f73b1" />
<rect x="1184.8" y="541.33" width="11.5" height="141" fill="#719c5d" />
<rect x="1184.8" y="529" width="11.5" height="12.33" fill="#7f73b1" />
<rect x="1202.27" y="641.67" width="11.5" height="40.67" fill="#719c5d" />
<rect x="1202.27" y="635.67" width="11.5" height="6" fill="#7f73b1" />
<rect x="1219.74" y="613.67" width="11.5" height="68.67" fill="#719c5d" />
<rect x="1219.74" y="611" width="11.5" height="2.67" fill="#7f73b1" />
<rect x="1237.21" y="656.67" width="11.5" height="25.67" fill="#719c5d" />
<rect x="1237.21" y="656.33" width="11.5" height="0.33" fill="#7f73b1" />
<rect x="1254.68" y="673.67" width="11.5" height="8.67" fill="#719c5d" />
<rect x="1254.68" y="673.33" width="11.5" height="0.33" fill="#7f73b1" />
<rect x="1272.15" y="552.67" width="11.5" height="129.67" fill="#719c5d" />
<rect x="1272.15" y="494" width="11.5" height="58.67" fill="#7f73b1" />
<rect x="1289.62" y="613" width="11.5" height="69.33" fill="#719c5d" />
<rect x="1289.62" y="583.33" width="11.5" height="29.67" fill="#7f73b1" />
<rect x="1307.09" y="678" width="11.5" height="4.33" fill="#719c5d" />
<rect x="1307.09" y="676.67" width="11.5" height="1.33" fill="#7f73b1" />
<rect x="1324.56" y="675" width="11.5" height="7.33" fill="#719c5d" />
<rect x="1324.56" y="674.33" width="11.5" height="0.67" fill="#7f73b1" />
<rect x="1342.03" y="674.67" width="11.5" height="7.67" fill="#719c5d" />
<rect x="1342.03" y="648" width="11.5" height="26.67" fill="#7f73b1" />
<rect x="1359.5" y="672" width="11.5" height="10.33" fill="#719c5d" />
<rect x="1359.5" y="661" width="11.5" height="11" fill="#7f73b1" />
<rect x="1376.97" y="674.33" width="11.5" height="8" fill="#719c5d" />
<rect x="1376.97" y="673" width="11.5" height="1.33" fill="#7f73b1" />
<rect x="1394.44" y="656" width="11.5" height="26.33" fill="#719c5d" />
<rect x="1394.44" y="655.33" width="11.5" height="0.67" fill="#7f73b1" />
<rect x="1411.91" y="608.67" width="11.5" height="73.67" fill="#719c5d" />
<rect x="1411.91" y="608" width="11.5" height="0.67" fill="#7f73b1" />
<rect x="1429.38" y="674.67" width="11.5" height="7.67" fill="#719c5d" />
<rect x="1429.38" y="674" width="11.5" height="0.67" fill="#7f73b1" />
<rect x="1446.85" y="669.33" width="11.5" height="13" fill="#719c5d" />
<rect x="1446.85" y="666.33" width="11.5" height="3" fill="#7f73b1" />
<rect x="1464.32" y="561.67" width="11.5" height="120.67" fill="#719c5d" />
<rect x="1464.32" y="556" width="11.5" height="5.67" fill="#7f73b1" />
<rect x="1481.79" y="603" width="11.5" height="79.33" fill="#719c5d" />
<rect x="1481.79" y="601" width="11.5" height="2" fill="#7f73b1" />
<rect x="1499.26" y="657" width="11.5" height="25.33" fill="#719c5d" />
<rect x="1499.26" y="656.33" width="11.5" height="0.67" fill="#7f73b1" />
<rect x="1516.73" y="673.67" width="11.5" height="8.67" fill="#719c5d" />
<rect x="1516.73" y="663" width="11.5" height="10.67" fill="#7f73b1" />
<rect x="1534.2" y="654.67" width="11.5" height="27.67" fill="#719c5d" />
<rect x="1534.2" y="626.67" width="11.5" height="28" fill="#7f73b1" />
<rect x="1551.67" y="634.67" width="11.5" height="47.67" fill="#719c5d" />
<rect x="1551.67" y="633.33" width="11.5" height="1.33" fill="#7f73b1" />
<rect x="1569.14" y="667.67" width="11.5" height="14.67" fill="#719c5d" />
<rect x="1569.14" y="667" width="11.5" height="0.67" fill="#7f73b1" />
<rect x="1586.61" y="658.67" width="11.5" height="23.67" fill="#719c5d" />
<rect x="1586.61" y="658" width="11.5" height="0.67" fill="#7f73b1" />
<rect x="1604.08" y="657" width="11.5" height="25.33" fill="#719c5d" />
<rect x="1604.08" y="656.33" width="11.5" height="0.67" fill="#7f73b1" />
<rect x="1621.55" y="650.33" width="11.5" height="32" fill="#719c5d" />
<rect x="1621.55" y="649.33" width="11.5" height="1" fill="#7f73b1" />
<rect x="1639.02" y="641.67" width="11.5" height="40.67" fill="#719c5d" />
<rect x="1639.02" y="640.67" width="11.5" height="1" fill="#7f73b1" />
<rect x="1656.49" y="678" width="11.5" height="4.33" fill="#719c5d" />
<rect x="1656.49" y="677.33" width="11.5" height="0.67" fill="#7f73b1" />
<rect x="1673.96" y="678.67" width="11.5" height="3.67" fill="#719c5d" />
<rect x="1673.96" y="678" width="11.5" height="0.67" fill="#7f73b1" />
<rect x="1691.43" y="677.67" width="11.5" height="4.67" fill="#719c5d" />
<rect x="1691.43" y="676.67" width="11.5" height="1" fill="#7f73b1" />
<rect x="1708.9" y="675.67" width="11.5" height="6.67" fill="#719c5d" />
<rect x="1708.9" y="674" width="11.5" height="1.67" fill="#7f73b1" />
</g>
<line x1="667.2" y1="681.9" x2="1715.6" y2="681.9" stroke="#444447" stroke-width="1.3"/>
<text x="1958.6" y="349.2" font-size="18.3" fill="#45b3e5" text-anchor="end" font-weight="normal" stroke="#45b3e5" stroke-width="0.75" >min</text>
<text x="2044.6" y="349.2" font-size="18.3" fill="#45b3e5" text-anchor="end" font-weight="normal" stroke="#45b3e5" stroke-width="0.75" >max</text>
<text x="2143.5" y="349.2" font-size="18.3" fill="#45b3e5" text-anchor="end" font-weight="normal" stroke="#45b3e5" stroke-width="0.75" >avg</text>
<text x="2242.9" y="349.2" font-size="18.3" fill="#45b3e5" text-anchor="end" font-weight="normal" stroke="#45b3e5" stroke-width="0.75" >current</text>
<rect x="1747.5" y="359.5" width="495.8" height="39.6" fill="#262628" />
<rect x="1764.5" y="378.95" width="20" height="5.2" fill="#719c5d" rx="1.5"/>
<text x="1796" y="384.85" font-size="18.3" fill="#d8d9da" text-anchor="start" font-weight="normal" stroke="#d8d9da" stroke-width="0.35" >WAN-1</text>
<text x="1958.6" y="384.85" font-size="18.3" fill="#d8d9da" text-anchor="end" font-weight="normal" stroke="#d8d9da" stroke-width="0.35" >61 kB</text>
<text x="2044.6" y="384.85" font-size="18.3" fill="#d8d9da" text-anchor="end" font-weight="normal" stroke="#d8d9da" stroke-width="0.35" >4 MB</text>
<text x="2143.5" y="384.85" font-size="18.3" fill="#d8d9da" text-anchor="end" font-weight="normal" stroke="#d8d9da" stroke-width="0.35" >903 kB</text>
<text x="2242.9" y="384.85" font-size="18.3" fill="#d8d9da" text-anchor="end" font-weight="normal" stroke="#d8d9da" stroke-width="0.35" >112 kB</text>
<rect x="1764.5" y="419.05" width="20" height="5.2" fill="#7f73b1" rx="1.5"/>
<text x="1796" y="424.95" font-size="18.3" fill="#d8d9da" text-anchor="start" font-weight="normal" stroke="#d8d9da" stroke-width="0.35" >WAN-2</text>
<text x="1958.6" y="424.95" font-size="18.3" fill="#d8d9da" text-anchor="end" font-weight="normal" stroke="#d8d9da" stroke-width="0.35" >7 kB</text>
<text x="2044.6" y="424.95" font-size="18.3" fill="#d8d9da" text-anchor="end" font-weight="normal" stroke="#d8d9da" stroke-width="0.35" >2 MB</text>
<text x="2143.5" y="424.95" font-size="18.3" fill="#d8d9da" text-anchor="end" font-weight="normal" stroke="#d8d9da" stroke-width="0.35" >202 kB</text>
<text x="2242.9" y="424.95" font-size="18.3" fill="#d8d9da" text-anchor="end" font-weight="normal" stroke="#d8d9da" stroke-width="0.35" >27 kB</text>
<line x1="667.2" y1="1152.4" x2="1715.6" y2="1152.4" stroke="#444447" stroke-width="1.6"/>
<text x="658.3" y="1157" font-size="17.9" fill="#dcdcdc" text-anchor="end" font-weight="normal" stroke="#dcdcdc" stroke-width="0.35" >0 B</text>
<line x1="667.2" y1="1094.53" x2="1715.6" y2="1094.53" stroke="#444447" stroke-width="1.6"/>
<text x="658.3" y="1099.13" font-size="17.9" fill="#dcdcdc" text-anchor="end" font-weight="normal" stroke="#dcdcdc" stroke-width="0.35" >50 kB</text>
<line x1="667.2" y1="1036.67" x2="1715.6" y2="1036.67" stroke="#444447" stroke-width="1.6"/>
<text x="658.3" y="1041.27" font-size="17.9" fill="#dcdcdc" text-anchor="end" font-weight="normal" stroke="#dcdcdc" stroke-width="0.35" >100 kB</text>
<line x1="667.2" y1="978.8" x2="1715.6" y2="978.8" stroke="#444447" stroke-width="1.6"/>
<text x="658.3" y="983.4" font-size="17.9" fill="#dcdcdc" text-anchor="end" font-weight="normal" stroke="#dcdcdc" stroke-width="0.35" >150 kB</text>
<line x1="667.2" y1="920.93" x2="1715.6" y2="920.93" stroke="#444447" stroke-width="1.6"/>
<text x="658.3" y="925.53" font-size="17.9" fill="#dcdcdc" text-anchor="end" font-weight="normal" stroke="#dcdcdc" stroke-width="0.35" >200 kB</text>
<line x1="667.2" y1="863.07" x2="1715.6" y2="863.07" stroke="#444447" stroke-width="1.6"/>
<text x="658.3" y="867.67" font-size="17.9" fill="#dcdcdc" text-anchor="end" font-weight="normal" stroke="#dcdcdc" stroke-width="0.35" >250 kB</text>
<line x1="667.2" y1="805.2" x2="1715.6" y2="805.2" stroke="#444447" stroke-width="1.6"/>
<text x="658.3" y="809.8" font-size="17.9" fill="#dcdcdc" text-anchor="end" font-weight="normal" stroke="#dcdcdc" stroke-width="0.35" >300 kB</text>
<line x1="765.5" y1="805.2" x2="765.5" y2="1152.4" stroke="#444447" stroke-width="1.6"/>
<text x="765.5" y="1178.8" font-size="18.1" fill="#dcdcdc" text-anchor="middle" font-weight="normal" stroke="#dcdcdc" stroke-width="0.35" >18:20</text>
<line x1="940.2" y1="805.2" x2="940.2" y2="1152.4" stroke="#444447" stroke-width="1.6"/>
<text x="940.2" y="1178.8" font-size="18.1" fill="#dcdcdc" text-anchor="middle" font-weight="normal" stroke="#dcdcdc" stroke-width="0.35" >18:30</text>
<line x1="1114.9" y1="805.2" x2="1114.9" y2="1152.4" stroke="#444447" stroke-width="1.6"/>
<text x="1114.9" y="1178.8" font-size="18.1" fill="#dcdcdc" text-anchor="middle" font-weight="normal" stroke="#dcdcdc" stroke-width="0.35" >18:40</text>
<line x1="1289.6" y1="805.2" x2="1289.6" y2="1152.4" stroke="#444447" stroke-width="1.6"/>
<text x="1289.6" y="1178.8" font-size="18.1" fill="#dcdcdc" text-anchor="middle" font-weight="normal" stroke="#dcdcdc" stroke-width="0.35" >18:50</text>
<line x1="1464.3" y1="805.2" x2="1464.3" y2="1152.4" stroke="#444447" stroke-width="1.6"/>
<text x="1464.3" y="1178.8" font-size="18.1" fill="#dcdcdc" text-anchor="middle" font-weight="normal" stroke="#dcdcdc" stroke-width="0.35" >19:00</text>
<line x1="1639" y1="805.2" x2="1639" y2="1152.4" stroke="#444447" stroke-width="1.6"/>
<text x="1639" y="1178.8" font-size="18.1" fill="#dcdcdc" text-anchor="middle" font-weight="normal" stroke="#dcdcdc" stroke-width="0.35" >19:10</text>
<clipPath id="c2"><rect x="667.2" y="785.2" width="1048.4" height="367.8"/></clipPath><g clip-path="url(#c2)">
<rect x="660.7" y="1072.67" width="11.5" height="79.67" fill="#719c5d" />
<rect x="660.7" y="1065.67" width="11.5" height="7" fill="#7f73b1" />
<rect x="678.17" y="984.33" width="11.5" height="168" fill="#719c5d" />
<rect x="678.17" y="970.33" width="11.5" height="14" fill="#7f73b1" />
<rect x="695.64" y="992.67" width="11.5" height="159.67" fill="#719c5d" />
<rect x="695.64" y="957" width="11.5" height="35.67" fill="#7f73b1" />
<rect x="713.11" y="1020.67" width="11.5" height="131.67" fill="#719c5d" />
<rect x="713.11" y="999" width="11.5" height="21.67" fill="#7f73b1" />
<rect x="730.58" y="1029.33" width="11.5" height="123" fill="#719c5d" />
<rect x="730.58" y="1007.67" width="11.5" height="21.67" fill="#7f73b1" />
<rect x="748.05" y="1028.67" width="11.5" height="123.67" fill="#719c5d" />
<rect x="748.05" y="1021" width="11.5" height="7.67" fill="#7f73b1" />
<rect x="765.52" y="1088.67" width="11.5" height="63.67" fill="#719c5d" />
<rect x="765.52" y="1070" width="11.5" height="18.67" fill="#7f73b1" />
<rect x="782.99" y="1061.33" width="11.5" height="91" fill="#719c5d" />
<rect x="782.99" y="1019.67" width="11.5" height="41.67" fill="#7f73b1" />
<rect x="800.46" y="1039.67" width="11.5" height="112.67" fill="#719c5d" />
<rect x="800.46" y="998.67" width="11.5" height="41" fill="#7f73b1" />
<rect x="817.93" y="983" width="11.5" height="169.33" fill="#719c5d" />
<rect x="817.93" y="965" width="11.5" height="18" fill="#7f73b1" />
<rect x="835.4" y="1025.33" width="11.5" height="127" fill="#719c5d" />
<rect x="835.4" y="1015" width="11.5" height="10.33" fill="#7f73b1" />
<rect x="852.87" y="1005" width="11.5" height="147.33" fill="#719c5d" />
<rect x="852.87" y="997.67" width="11.5" height="7.33" fill="#7f73b1" />
<rect x="870.34" y="1022.67" width="11.5" height="129.67" fill="#719c5d" />
<rect x="870.34" y="1018" width="11.5" height="4.67" fill="#7f73b1" />
<rect x="887.81" y="1062" width="11.5" height="90.33" fill="#719c5d" />
<rect x="887.81" y="1057.33" width="11.5" height="4.67" fill="#7f73b1" />
<rect x="905.28" y="1025.67" width="11.5" height="126.67" fill="#719c5d" />
<rect x="905.28" y="1004.33" width="11.5" height="21.33" fill="#7f73b1" />
<rect x="922.75" y="1077.67" width="11.5" height="74.67" fill="#719c5d" />
<rect x="922.75" y="1061" width="11.5" height="16.67" fill="#7f73b1" />
<rect x="940.22" y="1068.67" width="11.5" height="83.67" fill="#719c5d" />
<rect x="940.22" y="1055.33" width="11.5" height="13.33" fill="#7f73b1" />
<rect x="957.69" y="1066.67" width="11.5" height="85.67" fill="#719c5d" />
<rect x="957.69" y="1041.33" width="11.5" height="25.33" fill="#7f73b1" />
<rect x="975.16" y="1082" width="11.5" height="70.33" fill="#719c5d" />
<rect x="975.16" y="1056" width="11.5" height="26" fill="#7f73b1" />
<rect x="992.63" y="1069.67" width="11.5" height="82.67" fill="#719c5d" />
<rect x="992.63" y="1052" width="11.5" height="17.67" fill="#7f73b1" />
<rect x="1010.1" y="1093.33" width="11.5" height="59" fill="#719c5d" />
<rect x="1010.1" y="1082" width="11.5" height="11.33" fill="#7f73b1" />
<rect x="1027.57" y="1059.67" width="11.5" height="92.67" fill="#719c5d" />
<rect x="1027.57" y="1038.67" width="11.5" height="21" fill="#7f73b1" />
<rect x="1045.04" y="1001.67" width="11.5" height="150.67" fill="#719c5d" />
<rect x="1045.04" y="917.67" width="11.5" height="84" fill="#7f73b1" />
<rect x="1062.51" y="1045.33" width="11.5" height="107" fill="#719c5d" />
<rect x="1062.51" y="1019.67" width="11.5" height="25.67" fill="#7f73b1" />
<rect x="1079.98" y="1068" width="11.5" height="84.33" fill="#719c5d" />
<rect x="1079.98" y="1043.33" width="11.5" height="24.67" fill="#7f73b1" />
<rect x="1097.45" y="1046" width="11.5" height="106.33" fill="#719c5d" />
<rect x="1097.45" y="1036" width="11.5" height="10" fill="#7f73b1" />
<rect x="1114.92" y="1033.67" width="11.5" height="118.67" fill="#719c5d" />
<rect x="1114.92" y="1028" width="11.5" height="5.67" fill="#7f73b1" />
<rect x="1132.39" y="988" width="11.5" height="164.33" fill="#719c5d" />
<rect x="1132.39" y="953" width="11.5" height="35" fill="#7f73b1" />
<rect x="1149.86" y="986.67" width="11.5" height="165.67" fill="#719c5d" />
<rect x="1149.86" y="939" width="11.5" height="47.67" fill="#7f73b1" />
<rect x="1167.33" y="931.67" width="11.5" height="220.67" fill="#719c5d" />
<rect x="1167.33" y="853.67" width="11.5" height="78" fill="#7f73b1" />
<rect x="1184.8" y="1019" width="11.5" height="133.33" fill="#719c5d" />
<rect x="1184.8" y="1006" width="11.5" height="13" fill="#7f73b1" />
<rect x="1202.27" y="1063.33" width="11.5" height="89" fill="#719c5d" />
<rect x="1202.27" y="1048" width="11.5" height="15.33" fill="#7f73b1" />
<rect x="1219.74" y="1078.67" width="11.5" height="73.67" fill="#719c5d" />
<rect x="1219.74" y="1068.33" width="11.5" height="10.33" fill="#7f73b1" />
<rect x="1237.21" y="1106.33" width="11.5" height="46" fill="#719c5d" />
<rect x="1237.21" y="1101" width="11.5" height="5.33" fill="#7f73b1" />
<rect x="1254.68" y="1086" width="11.5" height="66.33" fill="#719c5d" />
<rect x="1254.68" y="1078" width="11.5" height="8" fill="#7f73b1" />
<rect x="1272.15" y="1032" width="11.5" height="120.33" fill="#719c5d" />
<rect x="1272.15" y="999" width="11.5" height="33" fill="#7f73b1" />
<rect x="1289.62" y="1060.33" width="11.5" height="92" fill="#719c5d" />
<rect x="1289.62" y="1041.33" width="11.5" height="19" fill="#7f73b1" />
<rect x="1307.09" y="1101.67" width="11.5" height="50.67" fill="#719c5d" />
<rect x="1307.09" y="1096.33" width="11.5" height="5.33" fill="#7f73b1" />
<rect x="1324.56" y="1061" width="11.5" height="91.33" fill="#719c5d" />
<rect x="1324.56" y="1058" width="11.5" height="3" fill="#7f73b1" />
<rect x="1342.03" y="1084.67" width="11.5" height="67.67" fill="#719c5d" />
<rect x="1342.03" y="1065.67" width="11.5" height="19" fill="#7f73b1" />
<rect x="1359.5" y="1082.33" width="11.5" height="70" fill="#719c5d" />
<rect x="1359.5" y="1072.33" width="11.5" height="10" fill="#7f73b1" />
<rect x="1376.97" y="1097.33" width="11.5" height="55" fill="#719c5d" />
<rect x="1376.97" y="1091.33" width="11.5" height="6" fill="#7f73b1" />
<rect x="1394.44" y="1089.67" width="11.5" height="62.67" fill="#719c5d" />
<rect x="1394.44" y="1086.33" width="11.5" height="3.33" fill="#7f73b1" />
<rect x="1411.91" y="1077.33" width="11.5" height="75" fill="#719c5d" />
<rect x="1411.91" y="1073.33" width="11.5" height="4" fill="#7f73b1" />
<rect x="1429.38" y="1080.67" width="11.5" height="71.67" fill="#719c5d" />
<rect x="1429.38" y="1074.33" width="11.5" height="6.33" fill="#7f73b1" />
<rect x="1446.85" y="1078" width="11.5" height="74.33" fill="#719c5d" />
<rect x="1446.85" y="1067.33" width="11.5" height="10.67" fill="#7f73b1" />
<rect x="1464.32" y="1051.33" width="11.5" height="101" fill="#719c5d" />
<rect x="1464.32" y="1039.33" width="11.5" height="12" fill="#7f73b1" />
<rect x="1481.79" y="1084.33" width="11.5" height="68" fill="#719c5d" />
<rect x="1481.79" y="1079.33" width="11.5" height="5" fill="#7f73b1" />
<rect x="1499.26" y="1100.67" width="11.5" height="51.67" fill="#719c5d" />
<rect x="1499.26" y="1097" width="11.5" height="3.67" fill="#7f73b1" />
<rect x="1516.73" y="1096.67" width="11.5" height="55.67" fill="#719c5d" />
<rect x="1516.73" y="1085" width="11.5" height="11.67" fill="#7f73b1" />
<rect x="1534.2" y="1073.67" width="11.5" height="78.67" fill="#719c5d" />
<rect x="1534.2" y="1059.33" width="11.5" height="14.33" fill="#7f73b1" />
<rect x="1551.67" y="1074" width="11.5" height="78.33" fill="#719c5d" />
<rect x="1551.67" y="1069.33" width="11.5" height="4.67" fill="#7f73b1" />
<rect x="1569.14" y="1087.67" width="11.5" height="64.67" fill="#719c5d" />
<rect x="1569.14" y="1083" width="11.5" height="4.67" fill="#7f73b1" />
<rect x="1586.61" y="1099" width="11.5" height="53.33" fill="#719c5d" />
<rect x="1586.61" y="1095" width="11.5" height="4" fill="#7f73b1" />
<rect x="1604.08" y="1081.33" width="11.5" height="71" fill="#719c5d" />
<rect x="1604.08" y="1072.33" width="11.5" height="9" fill="#7f73b1" />
<rect x="1621.55" y="1080.67" width="11.5" height="71.67" fill="#719c5d" />
<rect x="1621.55" y="1073" width="11.5" height="7.67" fill="#7f73b1" />
<rect x="1639.02" y="1082" width="11.5" height="70.33" fill="#719c5d" />
<rect x="1639.02" y="1073" width="11.5" height="9" fill="#7f73b1" />
<rect x="1656.49" y="1094" width="11.5" height="58.33" fill="#719c5d" />
<rect x="1656.49" y="1088" width="11.5" height="6" fill="#7f73b1" />
<rect x="1673.96" y="1107" width="11.5" height="45.33" fill="#719c5d" />
<rect x="1673.96" y="1101" width="11.5" height="6" fill="#7f73b1" />
<rect x="1691.43" y="1096.67" width="11.5" height="55.67" fill="#719c5d" />
<rect x="1691.43" y="1093" width="11.5" height="3.67" fill="#7f73b1" />
<rect x="1708.9" y="1101.67" width="11.5" height="50.67" fill="#719c5d" />
<rect x="1708.9" y="1097" width="11.5" height="4.67" fill="#7f73b1" />
</g>
<line x1="667.2" y1="1152.4" x2="1715.6" y2="1152.4" stroke="#444447" stroke-width="1.3"/>
<text x="1958.2" y="819.7" font-size="18.3" fill="#45b3e5" text-anchor="end" font-weight="normal" stroke="#45b3e5" stroke-width="0.75" >min</text>
<text x="2057.8" y="819.7" font-size="18.3" fill="#45b3e5" text-anchor="end" font-weight="normal" stroke="#45b3e5" stroke-width="0.75" >max</text>
<text x="2146.5" y="819.7" font-size="18.3" fill="#45b3e5" text-anchor="end" font-weight="normal" stroke="#45b3e5" stroke-width="0.75" >avg</text>
<text x="2236" y="819.7" font-size="18.3" fill="#45b3e5" text-anchor="end" font-weight="normal" stroke="#45b3e5" stroke-width="0.75" >current</text>
<rect x="1747.5" y="830" width="495.8" height="39.6" fill="#262628" />
<rect x="1764.5" y="849.45" width="20" height="5.2" fill="#719c5d" rx="1.5"/>
<text x="1796" y="855.35" font-size="18.3" fill="#d8d9da" text-anchor="start" font-weight="normal" stroke="#d8d9da" stroke-width="0.35" >WAN-1</text>
<text x="1958.2" y="855.35" font-size="18.3" fill="#d8d9da" text-anchor="end" font-weight="normal" stroke="#d8d9da" stroke-width="0.35" >39 kB</text>
<text x="2057.8" y="855.35" font-size="18.3" fill="#d8d9da" text-anchor="end" font-weight="normal" stroke="#d8d9da" stroke-width="0.35" >190 kB</text>
<text x="2146.5" y="855.35" font-size="18.3" fill="#d8d9da" text-anchor="end" font-weight="normal" stroke="#d8d9da" stroke-width="0.35" >81 kB</text>
<text x="2236" y="855.35" font-size="18.3" fill="#d8d9da" text-anchor="end" font-weight="normal" stroke="#d8d9da" stroke-width="0.35" >44 kB</text>
<rect x="1764.5" y="889.55" width="20" height="5.2" fill="#7f73b1" rx="1.5"/>
<text x="1796" y="895.45" font-size="18.3" fill="#d8d9da" text-anchor="start" font-weight="normal" stroke="#d8d9da" stroke-width="0.35" >WAN-2</text>
<text x="1958.2" y="895.45" font-size="18.3" fill="#d8d9da" text-anchor="end" font-weight="normal" stroke="#d8d9da" stroke-width="0.35" >2 kB</text>
<text x="2057.8" y="895.45" font-size="18.3" fill="#d8d9da" text-anchor="end" font-weight="normal" stroke="#d8d9da" stroke-width="0.35" >72 kB</text>
<text x="2146.5" y="895.45" font-size="18.3" fill="#d8d9da" text-anchor="end" font-weight="normal" stroke="#d8d9da" stroke-width="0.35" >14 kB</text>
<text x="2236" y="895.45" font-size="18.3" fill="#d8d9da" text-anchor="end" font-weight="normal" stroke="#d8d9da" stroke-width="0.35" >4 kB</text>
<line x1="641.9" y1="1622.5" x2="1715.6" y2="1622.5" stroke="#444447" stroke-width="1.6"/>
<text x="632.3" y="1627.1" font-size="17.9" fill="#dcdcdc" text-anchor="end" font-weight="normal" stroke="#dcdcdc" stroke-width="0.35" >0</text>
<line x1="641.9" y1="1507.03" x2="1715.6" y2="1507.03" stroke="#444447" stroke-width="1.6"/>
<text x="632.3" y="1511.63" font-size="17.9" fill="#dcdcdc" text-anchor="end" font-weight="normal" stroke="#dcdcdc" stroke-width="0.35" >50</text>
<line x1="641.9" y1="1391.57" x2="1715.6" y2="1391.57" stroke="#444447" stroke-width="1.6"/>
<text x="632.3" y="1396.17" font-size="17.9" fill="#dcdcdc" text-anchor="end" font-weight="normal" stroke="#dcdcdc" stroke-width="0.35" >100</text>
<line x1="641.9" y1="1276.1" x2="1715.6" y2="1276.1" stroke="#444447" stroke-width="1.6"/>
<text x="632.3" y="1280.7" font-size="17.9" fill="#dcdcdc" text-anchor="end" font-weight="normal" stroke="#dcdcdc" stroke-width="0.35" >150</text>
<line x1="742" y1="1276.1" x2="742" y2="1622.5" stroke="#444447" stroke-width="1.6"/>
<text x="742" y="1649.7" font-size="18.1" fill="#dcdcdc" text-anchor="middle" font-weight="normal" stroke="#dcdcdc" stroke-width="0.35" >18:20</text>
<line x1="921.14" y1="1276.1" x2="921.14" y2="1622.5" stroke="#444447" stroke-width="1.6"/>
<text x="921.14" y="1649.7" font-size="18.1" fill="#dcdcdc" text-anchor="middle" font-weight="normal" stroke="#dcdcdc" stroke-width="0.35" >18:30</text>
<line x1="1100.28" y1="1276.1" x2="1100.28" y2="1622.5" stroke="#444447" stroke-width="1.6"/>
<text x="1100.28" y="1649.7" font-size="18.1" fill="#dcdcdc" text-anchor="middle" font-weight="normal" stroke="#dcdcdc" stroke-width="0.35" >18:40</text>
<line x1="1279.42" y1="1276.1" x2="1279.42" y2="1622.5" stroke="#444447" stroke-width="1.6"/>
<text x="1279.42" y="1649.7" font-size="18.1" fill="#dcdcdc" text-anchor="middle" font-weight="normal" stroke="#dcdcdc" stroke-width="0.35" >18:50</text>
<line x1="1458.56" y1="1276.1" x2="1458.56" y2="1622.5" stroke="#444447" stroke-width="1.6"/>
<text x="1458.56" y="1649.7" font-size="18.1" fill="#dcdcdc" text-anchor="middle" font-weight="normal" stroke="#dcdcdc" stroke-width="0.35" >19:00</text>
<line x1="1637.7" y1="1276.1" x2="1637.7" y2="1622.5" stroke="#444447" stroke-width="1.6"/>
<text x="1637.7" y="1649.7" font-size="18.1" fill="#dcdcdc" text-anchor="middle" font-weight="normal" stroke="#dcdcdc" stroke-width="0.35" >19:10</text>
<clipPath id="c3"><rect x="637.9" y="1256.1" width="1077.7" height="367"/></clipPath><g clip-path="url(#c3)">
<polyline fill="none" stroke="#e0884c" stroke-width="3.1" stroke-linejoin="round" points="640.9,1438.22 652.72,1345.38 670.61,1570.77 688.51,1568.92 706.41,1572.39 724.3,1572.39 742.2,1571.69 760.1,1474.01 777.99,1570.77 795.89,1571.69 813.79,1568.23 831.69,1482.32 849.58,1559.69 867.48,1571.69 885.38,1556.22 903.27,1570.77 921.17,1463.62 939.07,1570.54 956.96,1570.77 974.86,1571.69 992.76,1561.3 1010.65,1572.39 1028.55,1571.23 1046.45,1571.69 1064.35,1545.6 1082.24,1571.69 1100.14,1462.93 1118.04,1570.77 1135.93,1570.77 1153.83,1571.69 1171.73,1453.23 1189.62,1570.54 1207.52,1572.16 1225.42,1572.16 1243.32,1473.09 1261.21,1571.23 1279.11,1571.46 1297.01,1570.08 1314.9,1572.39 1332.8,1573.08 1350.7,1572.16 1368.6,1571.93 1386.49,1572.16 1404.39,1569.85 1422.29,1572.85 1440.18,1526.2 1458.08,1572.85 1475.98,1572.16 1493.87,1572.16 1511.77,1572.16 1529.67,1571.23 1547.57,1516.04 1565.46,1571.93 1583.36,1565.23 1601.26,1571.93 1619.15,1571.93 1637.05,1570.77 1654.95,1572.39 1672.84,1571.46 1690.74,1566.15 1708.64,1571.93"/>
<circle cx="652.72" cy="1345.38" r="5.2" fill="#e0884c"/>
<circle cx="670.61" cy="1570.77" r="5.2" fill="#e0884c"/>
<circle cx="688.51" cy="1568.92" r="5.2" fill="#e0884c"/>
<circle cx="706.41" cy="1572.39" r="5.2" fill="#e0884c"/>
<circle cx="724.3" cy="1572.39" r="5.2" fill="#e0884c"/>
<circle cx="742.2" cy="1571.69" r="5.2" fill="#e0884c"/>
<circle cx="760.1" cy="1474.01" r="5.2" fill="#e0884c"/>
<circle cx="777.99" cy="1570.77" r="5.2" fill="#e0884c"/>
<circle cx="795.89" cy="1571.69" r="5.2" fill="#e0884c"/>
<circle cx="813.79" cy="1568.23" r="5.2" fill="#e0884c"/>
<circle cx="831.69" cy="1482.32" r="5.2" fill="#e0884c"/>
<circle cx="849.58" cy="1559.69" r="5.2" fill="#e0884c"/>
<circle cx="867.48" cy="1571.69" r="5.2" fill="#e0884c"/>
<circle cx="885.38" cy="1556.22" r="5.2" fill="#e0884c"/>
<circle cx="903.27" cy="1570.77" r="5.2" fill="#e0884c"/>
<circle cx="921.17" cy="1463.62" r="5.2" fill="#e0884c"/>
<circle cx="939.07" cy="1570.54" r="5.2" fill="#e0884c"/>
<circle cx="956.96" cy="1570.77" r="5.2" fill="#e0884c"/>
<circle cx="974.86" cy="1571.69" r="5.2" fill="#e0884c"/>
<circle cx="992.76" cy="1561.3" r="5.2" fill="#e0884c"/>
<circle cx="1010.65" cy="1572.39" r="5.2" fill="#e0884c"/>
<circle cx="1028.55" cy="1571.23" r="5.2" fill="#e0884c"/>
<circle cx="1046.45" cy="1571.69" r="5.2" fill="#e0884c"/>
<circle cx="1064.35" cy="1545.6" r="5.2" fill="#e0884c"/>
<circle cx="1082.24" cy="1571.69" r="5.2" fill="#e0884c"/>
<circle cx="1100.14" cy="1462.93" r="5.2" fill="#e0884c"/>
<circle cx="1118.04" cy="1570.77" r="5.2" fill="#e0884c"/>
<circle cx="1135.93" cy="1570.77" r="5.2" fill="#e0884c"/>
<circle cx="1153.83" cy="1571.69" r="5.2" fill="#e0884c"/>
<circle cx="1171.73" cy="1453.23" r="5.2" fill="#e0884c"/>
<circle cx="1189.62" cy="1570.54" r="5.2" fill="#e0884c"/>
<circle cx="1207.52" cy="1572.16" r="5.2" fill="#e0884c"/>
<circle cx="1225.42" cy="1572.16" r="5.2" fill="#e0884c"/>
<circle cx="1243.32" cy="1473.09" r="5.2" fill="#e0884c"/>
<circle cx="1261.21" cy="1571.23" r="5.2" fill="#e0884c"/>
<circle cx="1279.11" cy="1571.46" r="5.2" fill="#e0884c"/>
<circle cx="1297.01" cy="1570.08" r="5.2" fill="#e0884c"/>
<circle cx="1314.9" cy="1572.39" r="5.2" fill="#e0884c"/>
<circle cx="1332.8" cy="1573.08" r="5.2" fill="#e0884c"/>
<circle cx="1350.7" cy="1572.16" r="5.2" fill="#e0884c"/>
<circle cx="1368.6" cy="1571.93" r="5.2" fill="#e0884c"/>
<circle cx="1386.49" cy="1572.16" r="5.2" fill="#e0884c"/>
<circle cx="1404.39" cy="1569.85" r="5.2" fill="#e0884c"/>
<circle cx="1422.29" cy="1572.85" r="5.2" fill="#e0884c"/>
<circle cx="1440.18" cy="1526.2" r="5.2" fill="#e0884c"/>
<circle cx="1458.08" cy="1572.85" r="5.2" fill="#e0884c"/>
<circle cx="1475.98" cy="1572.16" r="5.2" fill="#e0884c"/>
<circle cx="1493.87" cy="1572.16" r="5.2" fill="#e0884c"/>
<circle cx="1511.77" cy="1572.16" r="5.2" fill="#e0884c"/>
<circle cx="1529.67" cy="1571.23" r="5.2" fill="#e0884c"/>
<circle cx="1547.57" cy="1516.04" r="5.2" fill="#e0884c"/>
<circle cx="1565.46" cy="1571.93" r="5.2" fill="#e0884c"/>
<circle cx="1583.36" cy="1565.23" r="5.2" fill="#e0884c"/>
<circle cx="1601.26" cy="1571.93" r="5.2" fill="#e0884c"/>
<circle cx="1619.15" cy="1571.93" r="5.2" fill="#e0884c"/>
<circle cx="1637.05" cy="1570.77" r="5.2" fill="#e0884c"/>
<circle cx="1654.95" cy="1572.39" r="5.2" fill="#e0884c"/>
<circle cx="1672.84" cy="1571.46" r="5.2" fill="#e0884c"/>
<circle cx="1690.74" cy="1566.15" r="5.2" fill="#e0884c"/>
<circle cx="1708.64" cy="1571.93" r="5.2" fill="#e0884c"/>
</g>
<text x="2002.2" y="1289.9" font-size="18.3" fill="#45b3e5" text-anchor="end" font-weight="normal" stroke="#45b3e5" stroke-width="0.75" >min</text>
<text x="2076.2" y="1289.9" font-size="18.3" fill="#45b3e5" text-anchor="end" font-weight="normal" stroke="#45b3e5" stroke-width="0.75" >max</text>
<text x="2140" y="1289.9" font-size="18.3" fill="#45b3e5" text-anchor="end" font-weight="normal" stroke="#45b3e5" stroke-width="0.75" >avg</text>
<text x="2217.5" y="1289.9" font-size="18.3" fill="#45b3e5" text-anchor="end" font-weight="normal" stroke="#45b3e5" stroke-width="0.75" >current</text>
<rect x="1747.5" y="1300.2" width="486.5" height="39.6" fill="#262628" />
<rect x="1764.5" y="1319.65" width="20" height="5.2" fill="#e0884c" rx="1.5"/>
<text x="1796" y="1325.55" font-size="18.3" fill="#d8d9da" text-anchor="start" font-weight="normal" stroke="#d8d9da" stroke-width="0.35" >Google DNS</text>
<text x="2002.2" y="1325.55" font-size="18.3" fill="#d8d9da" text-anchor="end" font-weight="normal" stroke="#d8d9da" stroke-width="0.35" >22</text>
<text x="2076.2" y="1325.55" font-size="18.3" fill="#d8d9da" text-anchor="end" font-weight="normal" stroke="#d8d9da" stroke-width="0.35" >120</text>
<text x="2140" y="1325.55" font-size="18.3" fill="#d8d9da" text-anchor="end" font-weight="normal" stroke="#d8d9da" stroke-width="0.35" >30</text>
<text x="2217.5" y="1325.55" font-size="18.3" fill="#d8d9da" text-anchor="end" font-weight="normal" stroke="#d8d9da" stroke-width="0.35" >22</text>
<line x1="641.9" y1="2170.5" x2="1622.9" y2="2170.5" stroke="#444447" stroke-width="1.6"/>
<text x="632.3" y="2175.1" font-size="17.9" fill="#dcdcdc" text-anchor="end" font-weight="normal" stroke="#dcdcdc" stroke-width="0.35" >0</text>
<line x1="641.9" y1="2101.02" x2="1622.9" y2="2101.02" stroke="#444447" stroke-width="1.6"/>
<text x="632.3" y="2105.62" font-size="17.9" fill="#dcdcdc" text-anchor="end" font-weight="normal" stroke="#dcdcdc" stroke-width="0.35" >100</text>
<line x1="641.9" y1="2031.54" x2="1622.9" y2="2031.54" stroke="#444447" stroke-width="1.6"/>
<text x="632.3" y="2036.14" font-size="17.9" fill="#dcdcdc" text-anchor="end" font-weight="normal" stroke="#dcdcdc" stroke-width="0.35" >200</text>
<line x1="641.9" y1="1962.06" x2="1622.9" y2="1962.06" stroke="#444447" stroke-width="1.6"/>
<text x="632.3" y="1966.66" font-size="17.9" fill="#dcdcdc" text-anchor="end" font-weight="normal" stroke="#dcdcdc" stroke-width="0.35" >300</text>
<line x1="641.9" y1="1892.58" x2="1622.9" y2="1892.58" stroke="#444447" stroke-width="1.6"/>
<text x="632.3" y="1897.18" font-size="17.9" fill="#dcdcdc" text-anchor="end" font-weight="normal" stroke="#dcdcdc" stroke-width="0.35" >400</text>
<line x1="641.9" y1="1823.1" x2="1622.9" y2="1823.1" stroke="#444447" stroke-width="1.6"/>
<text x="632.3" y="1827.7" font-size="17.9" fill="#dcdcdc" text-anchor="end" font-weight="normal" stroke="#dcdcdc" stroke-width="0.35" >500</text>
<line x1="710" y1="1823.1" x2="710" y2="2170.5" stroke="#444447" stroke-width="1.6"/>
<text x="710" y="2196.6" font-size="18.1" fill="#dcdcdc" text-anchor="middle" font-weight="normal" stroke="#dcdcdc" stroke-width="0.35" >18:20</text>
<line x1="873.34" y1="1823.1" x2="873.34" y2="2170.5" stroke="#444447" stroke-width="1.6"/>
<text x="873.34" y="2196.6" font-size="18.1" fill="#dcdcdc" text-anchor="middle" font-weight="normal" stroke="#dcdcdc" stroke-width="0.35" >18:30</text>
<line x1="1036.68" y1="1823.1" x2="1036.68" y2="2170.5" stroke="#444447" stroke-width="1.6"/>
<text x="1036.68" y="2196.6" font-size="18.1" fill="#dcdcdc" text-anchor="middle" font-weight="normal" stroke="#dcdcdc" stroke-width="0.35" >18:40</text>
<line x1="1200.02" y1="1823.1" x2="1200.02" y2="2170.5" stroke="#444447" stroke-width="1.6"/>
<text x="1200.02" y="2196.6" font-size="18.1" fill="#dcdcdc" text-anchor="middle" font-weight="normal" stroke="#dcdcdc" stroke-width="0.35" >18:50</text>
<line x1="1363.36" y1="1823.1" x2="1363.36" y2="2170.5" stroke="#444447" stroke-width="1.6"/>
<text x="1363.36" y="2196.6" font-size="18.1" fill="#dcdcdc" text-anchor="middle" font-weight="normal" stroke="#dcdcdc" stroke-width="0.35" >19:00</text>
<line x1="1526.7" y1="1823.1" x2="1526.7" y2="2170.5" stroke="#444447" stroke-width="1.6"/>
<text x="1526.7" y="2196.6" font-size="18.1" fill="#dcdcdc" text-anchor="middle" font-weight="normal" stroke="#dcdcdc" stroke-width="0.35" >19:10</text>
<clipPath id="c4"><rect x="641.9" y="1803.1" width="981" height="368"/></clipPath><g clip-path="url(#c4)">
<rect x="643.8" y="2114.92" width="10.9" height="55.58" fill="#719c5d" />
<rect x="643.8" y="2104.49" width="10.9" height="10.42" fill="#ad2f1a" />
<rect x="660.16" y="2128.81" width="10.9" height="41.69" fill="#719c5d" />
<rect x="660.16" y="2121.86" width="10.9" height="6.95" fill="#ad2f1a" />
<rect x="676.52" y="2069.75" width="10.9" height="100.75" fill="#719c5d" />
<rect x="676.52" y="2066.28" width="10.9" height="3.47" fill="#ad2f1a" />
<rect x="692.88" y="2069.75" width="10.9" height="100.75" fill="#719c5d" />
<rect x="692.88" y="2062.81" width="10.9" height="6.95" fill="#ad2f1a" />
<rect x="709.24" y="2090.6" width="10.9" height="79.9" fill="#719c5d" />
<rect x="725.6" y="2080.18" width="10.9" height="90.32" fill="#719c5d" />
<rect x="725.6" y="2073.23" width="10.9" height="6.95" fill="#ad2f1a" />
<rect x="741.95" y="2097.55" width="10.9" height="72.95" fill="#719c5d" />
<rect x="741.95" y="2073.23" width="10.9" height="24.32" fill="#ad2f1a" />
<rect x="758.31" y="2038.49" width="10.9" height="132.01" fill="#719c5d" />
<rect x="774.67" y="2055.86" width="10.9" height="114.64" fill="#719c5d" />
<rect x="774.67" y="2052.38" width="10.9" height="3.47" fill="#ad2f1a" />
<rect x="791.03" y="2132.29" width="10.9" height="38.21" fill="#719c5d" />
<rect x="807.39" y="2128.81" width="10.9" height="41.69" fill="#719c5d" />
<rect x="807.39" y="2114.92" width="10.9" height="13.9" fill="#ad2f1a" />
<rect x="823.75" y="2132.29" width="10.9" height="38.21" fill="#719c5d" />
<rect x="823.75" y="2125.34" width="10.9" height="6.95" fill="#ad2f1a" />
<rect x="840.11" y="2083.65" width="10.9" height="86.85" fill="#719c5d" />
<rect x="840.11" y="2076.7" width="10.9" height="6.95" fill="#ad2f1a" />
<rect x="856.47" y="2073.23" width="10.9" height="97.27" fill="#719c5d" />
<rect x="856.47" y="2062.81" width="10.9" height="10.42" fill="#ad2f1a" />
<rect x="872.83" y="2121.86" width="10.9" height="48.64" fill="#719c5d" />
<rect x="889.18" y="2087.12" width="10.9" height="83.38" fill="#719c5d" />
<rect x="889.18" y="2066.28" width="10.9" height="20.84" fill="#ad2f1a" />
<rect x="905.54" y="2114.92" width="10.9" height="55.58" fill="#719c5d" />
<rect x="905.54" y="2104.49" width="10.9" height="10.42" fill="#ad2f1a" />
<rect x="921.9" y="2059.33" width="10.9" height="111.17" fill="#719c5d" />
<rect x="921.9" y="2052.38" width="10.9" height="6.95" fill="#ad2f1a" />
<rect x="938.26" y="2024.59" width="10.9" height="145.91" fill="#719c5d" />
<rect x="938.26" y="2021.12" width="10.9" height="3.47" fill="#ad2f1a" />
<rect x="954.62" y="2069.75" width="10.9" height="100.75" fill="#719c5d" />
<rect x="954.62" y="2066.28" width="10.9" height="3.47" fill="#ad2f1a" />
<rect x="970.98" y="2076.7" width="10.9" height="93.8" fill="#719c5d" />
<rect x="970.98" y="1972.48" width="10.9" height="104.22" fill="#ad2f1a" />
<rect x="987.34" y="2111.44" width="10.9" height="59.06" fill="#719c5d" />
<rect x="987.34" y="2101.02" width="10.9" height="10.42" fill="#ad2f1a" />
<rect x="1003.7" y="2038.49" width="10.9" height="132.01" fill="#719c5d" />
<rect x="1003.7" y="2024.59" width="10.9" height="13.9" fill="#ad2f1a" />
<rect x="1020.06" y="2041.96" width="10.9" height="128.54" fill="#719c5d" />
<rect x="1020.06" y="2038.49" width="10.9" height="3.47" fill="#ad2f1a" />
<rect x="1036.42" y="2048.91" width="10.9" height="121.59" fill="#719c5d" />
<rect x="1036.42" y="2045.44" width="10.9" height="3.47" fill="#ad2f1a" />
<rect x="1052.78" y="2080.18" width="10.9" height="90.32" fill="#719c5d" />
<rect x="1069.13" y="1951.64" width="10.9" height="218.86" fill="#719c5d" />
<rect x="1069.13" y="1903" width="10.9" height="48.64" fill="#ad2f1a" />
<rect x="1085.49" y="1975.96" width="10.9" height="194.54" fill="#719c5d" />
<rect x="1101.85" y="2021.12" width="10.9" height="149.38" fill="#719c5d" />
<rect x="1101.85" y="2014.17" width="10.9" height="6.95" fill="#ad2f1a" />
<rect x="1118.21" y="2104.49" width="10.9" height="66.01" fill="#719c5d" />
<rect x="1118.21" y="2097.55" width="10.9" height="6.95" fill="#ad2f1a" />
<rect x="1134.57" y="2090.6" width="10.9" height="79.9" fill="#719c5d" />
<rect x="1134.57" y="2080.18" width="10.9" height="10.42" fill="#ad2f1a" />
<rect x="1150.93" y="2128.81" width="10.9" height="41.69" fill="#719c5d" />
<rect x="1167.29" y="2080.18" width="10.9" height="90.32" fill="#719c5d" />
<rect x="1183.65" y="2073.23" width="10.9" height="97.27" fill="#719c5d" />
<rect x="1200.01" y="2062.81" width="10.9" height="107.69" fill="#719c5d" />
<rect x="1200.01" y="2055.86" width="10.9" height="6.95" fill="#ad2f1a" />
<rect x="1216.37" y="2114.92" width="10.9" height="55.58" fill="#719c5d" />
<rect x="1232.72" y="2125.34" width="10.9" height="45.16" fill="#719c5d" />
<rect x="1249.08" y="2090.6" width="10.9" height="79.9" fill="#719c5d" />
<rect x="1249.08" y="2087.12" width="10.9" height="3.47" fill="#ad2f1a" />
<rect x="1265.44" y="2073.23" width="10.9" height="97.27" fill="#719c5d" />
<rect x="1265.44" y="2059.33" width="10.9" height="13.9" fill="#ad2f1a" />
<rect x="1281.8" y="2135.76" width="10.9" height="34.74" fill="#719c5d" />
<rect x="1281.8" y="2111.44" width="10.9" height="24.32" fill="#ad2f1a" />
<rect x="1298.16" y="2118.39" width="10.9" height="52.11" fill="#719c5d" />
<rect x="1314.52" y="2142.71" width="10.9" height="27.79" fill="#719c5d" />
<rect x="1330.88" y="2052.38" width="10.9" height="118.12" fill="#719c5d" />
<rect x="1330.88" y="2048.91" width="10.9" height="3.47" fill="#ad2f1a" />
<rect x="1347.24" y="2062.81" width="10.9" height="107.69" fill="#719c5d" />
<rect x="1347.24" y="2045.44" width="10.9" height="17.37" fill="#ad2f1a" />
<rect x="1363.6" y="1958.59" width="10.9" height="211.91" fill="#719c5d" />
<rect x="1363.6" y="1955.11" width="10.9" height="3.47" fill="#ad2f1a" />
<rect x="1379.95" y="2139.23" width="10.9" height="31.27" fill="#719c5d" />
<rect x="1396.31" y="2132.29" width="10.9" height="38.21" fill="#719c5d" />
<rect x="1396.31" y="2128.81" width="10.9" height="3.47" fill="#ad2f1a" />
<rect x="1412.67" y="2073.23" width="10.9" height="97.27" fill="#719c5d" />
<rect x="1412.67" y="2066.28" width="10.9" height="6.95" fill="#ad2f1a" />
<rect x="1429.03" y="2062.81" width="10.9" height="107.69" fill="#719c5d" />
<rect x="1429.03" y="2048.91" width="10.9" height="13.9" fill="#ad2f1a" />
<rect x="1445.39" y="2069.75" width="10.9" height="100.75" fill="#719c5d" />
<rect x="1461.75" y="2090.6" width="10.9" height="79.9" fill="#719c5d" />
<rect x="1461.75" y="2087.12" width="10.9" height="3.47" fill="#ad2f1a" />
<rect x="1478.11" y="2107.97" width="10.9" height="62.53" fill="#719c5d" />
<rect x="1478.11" y="2104.49" width="10.9" height="3.47" fill="#ad2f1a" />
<rect x="1494.47" y="2059.33" width="10.9" height="111.17" fill="#719c5d" />
<rect x="1510.83" y="2069.75" width="10.9" height="100.75" fill="#719c5d" />
<rect x="1510.83" y="2048.91" width="10.9" height="20.84" fill="#ad2f1a" />
<rect x="1527.19" y="2062.81" width="10.9" height="107.69" fill="#719c5d" />
<rect x="1527.19" y="2059.33" width="10.9" height="3.47" fill="#ad2f1a" />
<rect x="1543.55" y="2097.55" width="10.9" height="72.95" fill="#719c5d" />
<rect x="1559.9" y="2125.34" width="10.9" height="45.16" fill="#719c5d" />
<rect x="1576.26" y="2118.39" width="10.9" height="52.11" fill="#719c5d" />
<rect x="1576.26" y="2114.92" width="10.9" height="3.47" fill="#ad2f1a" />
<rect x="1592.62" y="2021.12" width="10.9" height="149.38" fill="#719c5d" />
<rect x="1592.62" y="2007.22" width="10.9" height="13.9" fill="#ad2f1a" />
<rect x="1608.98" y="2107.97" width="10.9" height="62.53" fill="#719c5d" />
<polyline fill="none" stroke="#3e82c9" stroke-width="3.1" stroke-linejoin="round" points="643.8,2094.07 660.16,2114.92 676.52,2062.81 692.88,2055.86 709.24,2090.6 725.6,2066.28 741.95,2048.91 758.31,2038.49 774.67,2048.91 791.03,2132.29 807.39,2101.02 823.75,2118.39 840.11,2069.75 856.47,2052.38 872.83,2121.86 889.18,2045.44 905.54,2094.07 921.9,2045.44 938.26,2017.64 954.62,2062.81 970.98,1868.26 987.34,2090.6 1003.7,2010.7 1020.06,2035.01 1036.42,2041.96 1052.78,2080.18 1069.13,1854.37 1085.49,1975.96 1101.85,2007.22 1118.21,2090.6 1134.57,2069.75 1150.93,2128.81 1167.29,2080.18 1183.65,2073.23 1200.01,2048.91 1216.37,2114.92 1232.72,2125.34 1249.08,2083.65 1265.44,2045.44 1281.8,2087.12 1298.16,2118.39 1314.52,2142.71 1330.88,2045.44 1347.24,2028.07 1363.6,1951.64 1379.95,2139.23 1396.31,2125.34 1412.67,2059.33 1429.03,2035.01 1445.39,2069.75 1461.75,2083.65 1478.11,2101.02 1494.47,2059.33 1510.83,2028.07 1527.19,2055.86 1543.55,2097.55 1559.9,2125.34 1576.26,2111.44 1592.62,1993.33 1608.98,2107.97"/>
</g>
<line x1="641.9" y1="2170.5" x2="1622.9" y2="2170.5" stroke="#444447" stroke-width="1.3"/>
<text x="1918.1" y="1838" font-size="18.3" fill="#45b3e5" text-anchor="end" font-weight="normal" stroke="#45b3e5" stroke-width="0.75" >min</text>
<text x="1992.3" y="1838" font-size="18.3" fill="#45b3e5" text-anchor="end" font-weight="normal" stroke="#45b3e5" stroke-width="0.75" >max</text>
<text x="2066" y="1838" font-size="18.3" fill="#45b3e5" text-anchor="end" font-weight="normal" stroke="#45b3e5" stroke-width="0.75" >avg</text>
<text x="2143.2" y="1838" font-size="18.3" fill="#45b3e5" text-anchor="end" font-weight="normal" stroke="#45b3e5" stroke-width="0.75" >current</text>
<text x="2217.3" y="1838" font-size="18.3" fill="#45b3e5" text-anchor="end" font-weight="normal" stroke="#45b3e5" stroke-width="0.75" >total</text>
<rect x="1655.2" y="1848.3" width="579" height="39.6" fill="#262628" />
<rect x="1672.2" y="1867.75" width="20" height="5.2" fill="#719c5d" rx="1.5"/>
<text x="1703.7" y="1873.65" font-size="18.3" fill="#d8d9da" text-anchor="start" font-weight="normal" stroke="#d8d9da" stroke-width="0.35" >Hits</text>
<text x="1918.1" y="1873.65" font-size="18.3" fill="#d8d9da" text-anchor="end" font-weight="normal" stroke="#d8d9da" stroke-width="0.35" >40</text>
<text x="1992.3" y="1873.65" font-size="18.3" fill="#d8d9da" text-anchor="end" font-weight="normal" stroke="#d8d9da" stroke-width="0.35" >315</text>
<text x="2066" y="1873.65" font-size="18.3" fill="#d8d9da" text-anchor="end" font-weight="normal" stroke="#d8d9da" stroke-width="0.35" >129</text>
<text x="2143.2" y="1873.65" font-size="18.3" fill="#d8d9da" text-anchor="end" font-weight="normal" stroke="#d8d9da" stroke-width="0.35" >90</text>
<text x="2217.3" y="1873.65" font-size="18.3" fill="#d8d9da" text-anchor="end" font-weight="normal" stroke="#d8d9da" stroke-width="0.35" >8 K</text>
<rect x="1672.2" y="1907.85" width="20" height="5.2" fill="#ad2f1a" rx="1.5"/>
<text x="1703.7" y="1913.75" font-size="18.3" fill="#d8d9da" text-anchor="start" font-weight="normal" stroke="#d8d9da" stroke-width="0.35" >Misses</text>
<text x="1918.1" y="1913.75" font-size="18.3" fill="#d8d9da" text-anchor="end" font-weight="normal" stroke="#d8d9da" stroke-width="0.35" >0</text>
<text x="1992.3" y="1913.75" font-size="18.3" fill="#d8d9da" text-anchor="end" font-weight="normal" stroke="#d8d9da" stroke-width="0.35" >150</text>
<text x="2066" y="1913.75" font-size="18.3" fill="#d8d9da" text-anchor="end" font-weight="normal" stroke="#d8d9da" stroke-width="0.35" >12</text>
<text x="2143.2" y="1913.75" font-size="18.3" fill="#d8d9da" text-anchor="end" font-weight="normal" stroke="#d8d9da" stroke-width="0.35" >0</text>
<text x="2217.3" y="1913.75" font-size="18.3" fill="#d8d9da" text-anchor="end" font-weight="normal" stroke="#d8d9da" stroke-width="0.35" >720</text>
<rect x="1655.2" y="1928.5" width="579" height="39.6" fill="#262628" />
<rect x="1672.2" y="1947.95" width="20" height="5.2" fill="#3e82c9" rx="1.5"/>
<text x="1703.7" y="1953.85" font-size="18.3" fill="#d8d9da" text-anchor="start" font-weight="normal" stroke="#d8d9da" stroke-width="0.35" >Recursive</text>
<text x="1918.1" y="1953.85" font-size="18.3" fill="#d8d9da" text-anchor="end" font-weight="normal" stroke="#d8d9da" stroke-width="0.35" >0</text>
<text x="1992.3" y="1953.85" font-size="18.3" fill="#d8d9da" text-anchor="end" font-weight="normal" stroke="#d8d9da" stroke-width="0.35" >150</text>
<text x="2066" y="1953.85" font-size="18.3" fill="#d8d9da" text-anchor="end" font-weight="normal" stroke="#d8d9da" stroke-width="0.35" >12</text>
<text x="2143.2" y="1953.85" font-size="18.3" fill="#d8d9da" text-anchor="end" font-weight="normal" stroke="#d8d9da" stroke-width="0.35" >0</text>
<text x="2217.3" y="1953.85" font-size="18.3" fill="#d8d9da" text-anchor="end" font-weight="normal" stroke="#d8d9da" stroke-width="0.35" >720</text>
<line x1="641.9" y1="2640.9" x2="1622.9" y2="2640.9" stroke="#444447" stroke-width="1.6"/>
<text x="632.3" y="2645.5" font-size="17.9" fill="#dcdcdc" text-anchor="end" font-weight="normal" stroke="#dcdcdc" stroke-width="0.35" >0</text>
<line x1="641.9" y1="2554.05" x2="1622.9" y2="2554.05" stroke="#444447" stroke-width="1.6"/>
<text x="632.3" y="2558.65" font-size="17.9" fill="#dcdcdc" text-anchor="end" font-weight="normal" stroke="#dcdcdc" stroke-width="0.35" >100</text>
<line x1="641.9" y1="2467.2" x2="1622.9" y2="2467.2" stroke="#444447" stroke-width="1.6"/>
<text x="632.3" y="2471.8" font-size="17.9" fill="#dcdcdc" text-anchor="end" font-weight="normal" stroke="#dcdcdc" stroke-width="0.35" >200</text>
<line x1="641.9" y1="2380.35" x2="1622.9" y2="2380.35" stroke="#444447" stroke-width="1.6"/>
<text x="632.3" y="2384.95" font-size="17.9" fill="#dcdcdc" text-anchor="end" font-weight="normal" stroke="#dcdcdc" stroke-width="0.35" >300</text>
<line x1="641.9" y1="2293.5" x2="1622.9" y2="2293.5" stroke="#444447" stroke-width="1.6"/>
<text x="632.3" y="2298.1" font-size="17.9" fill="#dcdcdc" text-anchor="end" font-weight="normal" stroke="#dcdcdc" stroke-width="0.35" >400</text>
<line x1="710" y1="2293.5" x2="710" y2="2640.9" stroke="#444447" stroke-width="1.6"/>
<text x="710" y="2667" font-size="18.1" fill="#dcdcdc" text-anchor="middle" font-weight="normal" stroke="#dcdcdc" stroke-width="0.35" >18:20</text>
<line x1="873.34" y1="2293.5" x2="873.34" y2="2640.9" stroke="#444447" stroke-width="1.6"/>
<text x="873.34" y="2667" font-size="18.1" fill="#dcdcdc" text-anchor="middle" font-weight="normal" stroke="#dcdcdc" stroke-width="0.35" >18:30</text>
<line x1="1036.68" y1="2293.5" x2="1036.68" y2="2640.9" stroke="#444447" stroke-width="1.6"/>
<text x="1036.68" y="2667" font-size="18.1" fill="#dcdcdc" text-anchor="middle" font-weight="normal" stroke="#dcdcdc" stroke-width="0.35" >18:40</text>
<line x1="1200.02" y1="2293.5" x2="1200.02" y2="2640.9" stroke="#444447" stroke-width="1.6"/>
<text x="1200.02" y="2667" font-size="18.1" fill="#dcdcdc" text-anchor="middle" font-weight="normal" stroke="#dcdcdc" stroke-width="0.35" >18:50</text>
<line x1="1363.36" y1="2293.5" x2="1363.36" y2="2640.9" stroke="#444447" stroke-width="1.6"/>
<text x="1363.36" y="2667" font-size="18.1" fill="#dcdcdc" text-anchor="middle" font-weight="normal" stroke="#dcdcdc" stroke-width="0.35" >19:00</text>
<line x1="1526.7" y1="2293.5" x2="1526.7" y2="2640.9" stroke="#444447" stroke-width="1.6"/>
<text x="1526.7" y="2667" font-size="18.1" fill="#dcdcdc" text-anchor="middle" font-weight="normal" stroke="#dcdcdc" stroke-width="0.35" >19:10</text>
<clipPath id="c5"><rect x="641.9" y="2273.5" width="981" height="368"/></clipPath><g clip-path="url(#c5)">
<rect x="643.8" y="2562.73" width="10.9" height="78.16" fill="#6495c9" />
<rect x="643.8" y="2558.39" width="10.9" height="4.34" fill="#e5918d" />
<rect x="660.16" y="2584.45" width="10.9" height="56.45" fill="#6495c9" />
<rect x="660.16" y="2580.1" width="10.9" height="4.34" fill="#e5918d" />
<rect x="676.52" y="2510.62" width="10.9" height="130.27" fill="#6495c9" />
<rect x="692.88" y="2510.62" width="10.9" height="130.27" fill="#6495c9" />
<rect x="692.88" y="2506.28" width="10.9" height="4.34" fill="#ebc876" />
<rect x="709.24" y="2549.71" width="10.9" height="91.19" fill="#6495c9" />
<rect x="709.24" y="2541.02" width="10.9" height="8.68" fill="#ebc876" />
<rect x="725.6" y="2523.65" width="10.9" height="117.25" fill="#6495c9" />
<rect x="725.6" y="2519.31" width="10.9" height="4.34" fill="#ebc876" />
<rect x="741.95" y="2527.99" width="10.9" height="112.9" fill="#6495c9" />
<rect x="741.95" y="2519.31" width="10.9" height="8.68" fill="#e5918d" />
<rect x="758.31" y="2480.23" width="10.9" height="160.67" fill="#6495c9" />
<rect x="758.31" y="2475.88" width="10.9" height="4.34" fill="#e5918d" />
<rect x="774.67" y="2501.94" width="10.9" height="138.96" fill="#6495c9" />
<rect x="774.67" y="2493.25" width="10.9" height="8.68" fill="#e5918d" />
<rect x="791.03" y="2593.13" width="10.9" height="47.77" fill="#6495c9" />
<rect x="807.39" y="2571.42" width="10.9" height="69.48" fill="#6495c9" />
<rect x="823.75" y="2588.79" width="10.9" height="52.11" fill="#6495c9" />
<rect x="823.75" y="2584.45" width="10.9" height="4.34" fill="#e5918d" />
<rect x="840.11" y="2527.99" width="10.9" height="112.9" fill="#6495c9" />
<rect x="840.11" y="2523.65" width="10.9" height="4.34" fill="#e5918d" />
<rect x="856.47" y="2514.97" width="10.9" height="125.93" fill="#6495c9" />
<rect x="856.47" y="2506.28" width="10.9" height="8.68" fill="#e5918d" />
<rect x="872.83" y="2588.79" width="10.9" height="52.11" fill="#6495c9" />
<rect x="872.83" y="2580.1" width="10.9" height="8.68" fill="#e5918d" />
<rect x="889.18" y="2510.62" width="10.9" height="130.27" fill="#6495c9" />
<rect x="905.54" y="2562.73" width="10.9" height="78.16" fill="#6495c9" />
<rect x="905.54" y="2558.39" width="10.9" height="4.34" fill="#e5918d" />
<rect x="921.9" y="2497.6" width="10.9" height="143.3" fill="#6495c9" />
<rect x="921.9" y="2493.25" width="10.9" height="4.34" fill="#e5918d" />
<rect x="938.26" y="2480.23" width="10.9" height="160.67" fill="#6495c9" />
<rect x="938.26" y="2454.17" width="10.9" height="26.05" fill="#e5918d" />
<rect x="954.62" y="2514.97" width="10.9" height="125.93" fill="#6495c9" />
<rect x="954.62" y="2510.62" width="10.9" height="4.34" fill="#e5918d" />
<rect x="970.98" y="2393.38" width="10.9" height="247.52" fill="#6495c9" />
<rect x="987.34" y="2554.05" width="10.9" height="86.85" fill="#6495c9" />
<rect x="1003.7" y="2462.86" width="10.9" height="178.04" fill="#6495c9" />
<rect x="1003.7" y="2458.51" width="10.9" height="4.34" fill="#e5918d" />
<rect x="1020.06" y="2488.91" width="10.9" height="151.99" fill="#6495c9" />
<rect x="1020.06" y="2480.23" width="10.9" height="8.68" fill="#e5918d" />
<rect x="1020.06" y="2475.88" width="10.9" height="4.34" fill="#ebc876" />
<rect x="1036.42" y="2484.57" width="10.9" height="156.33" fill="#6495c9" />
<rect x="1052.78" y="2532.34" width="10.9" height="108.56" fill="#6495c9" />
<rect x="1052.78" y="2527.99" width="10.9" height="4.34" fill="#ebc876" />
<rect x="1069.13" y="2306.53" width="10.9" height="334.37" fill="#6495c9" />
<rect x="1085.49" y="2397.72" width="10.9" height="243.18" fill="#6495c9" />
<rect x="1101.85" y="2462.86" width="10.9" height="178.04" fill="#6495c9" />
<rect x="1101.85" y="2445.49" width="10.9" height="17.37" fill="#e5918d" />
<rect x="1118.21" y="2549.71" width="10.9" height="91.19" fill="#6495c9" />
<rect x="1134.57" y="2541.02" width="10.9" height="99.88" fill="#6495c9" />
<rect x="1134.57" y="2527.99" width="10.9" height="13.03" fill="#e5918d" />
<rect x="1150.93" y="2593.13" width="10.9" height="47.77" fill="#6495c9" />
<rect x="1150.93" y="2588.79" width="10.9" height="4.34" fill="#e5918d" />
<rect x="1167.29" y="2527.99" width="10.9" height="112.9" fill="#6495c9" />
<rect x="1183.65" y="2519.31" width="10.9" height="121.59" fill="#6495c9" />
<rect x="1200.01" y="2497.6" width="10.9" height="143.3" fill="#6495c9" />
<rect x="1216.37" y="2571.42" width="10.9" height="69.48" fill="#6495c9" />
<rect x="1232.72" y="2584.45" width="10.9" height="56.45" fill="#6495c9" />
<rect x="1249.08" y="2536.68" width="10.9" height="104.22" fill="#6495c9" />
<rect x="1265.44" y="2514.97" width="10.9" height="125.93" fill="#6495c9" />
<rect x="1265.44" y="2501.94" width="10.9" height="13.03" fill="#e5918d" />
<rect x="1281.8" y="2567.08" width="10.9" height="73.82" fill="#6495c9" />
<rect x="1298.16" y="2580.1" width="10.9" height="60.79" fill="#6495c9" />
<rect x="1298.16" y="2575.76" width="10.9" height="4.34" fill="#e5918d" />
<rect x="1314.52" y="2610.5" width="10.9" height="30.4" fill="#6495c9" />
<rect x="1314.52" y="2606.16" width="10.9" height="4.34" fill="#e5918d" />
<rect x="1330.88" y="2493.25" width="10.9" height="147.64" fill="#6495c9" />
<rect x="1330.88" y="2488.91" width="10.9" height="4.34" fill="#e5918d" />
<rect x="1347.24" y="2484.57" width="10.9" height="156.33" fill="#6495c9" />
<rect x="1363.6" y="2558.39" width="10.9" height="82.51" fill="#6495c9" />
<rect x="1363.6" y="2549.71" width="10.9" height="8.68" fill="#e5918d" />
<rect x="1363.6" y="2371.66" width="10.9" height="178.04" fill="#ebc876" />
<rect x="1379.95" y="2601.82" width="10.9" height="39.08" fill="#6495c9" />
<rect x="1396.31" y="2593.13" width="10.9" height="47.77" fill="#6495c9" />
<rect x="1396.31" y="2588.79" width="10.9" height="4.34" fill="#e5918d" />
<rect x="1412.67" y="2510.62" width="10.9" height="130.27" fill="#6495c9" />
<rect x="1429.03" y="2506.28" width="10.9" height="134.62" fill="#6495c9" />
<rect x="1429.03" y="2488.91" width="10.9" height="17.37" fill="#e5918d" />
<rect x="1445.39" y="2514.97" width="10.9" height="125.93" fill="#6495c9" />
<rect x="1461.75" y="2536.68" width="10.9" height="104.22" fill="#6495c9" />
<rect x="1478.11" y="2558.39" width="10.9" height="82.51" fill="#6495c9" />
<rect x="1494.47" y="2510.62" width="10.9" height="130.27" fill="#6495c9" />
<rect x="1494.47" y="2501.94" width="10.9" height="8.68" fill="#e5918d" />
<rect x="1510.83" y="2497.6" width="10.9" height="143.3" fill="#6495c9" />
<rect x="1510.83" y="2488.91" width="10.9" height="8.68" fill="#e5918d" />
<rect x="1527.19" y="2510.62" width="10.9" height="130.27" fill="#6495c9" />
<rect x="1527.19" y="2501.94" width="10.9" height="8.68" fill="#e5918d" />
<rect x="1543.55" y="2571.42" width="10.9" height="69.48" fill="#6495c9" />
<rect x="1543.55" y="2549.71" width="10.9" height="21.71" fill="#ebc876" />
<rect x="1559.9" y="2584.45" width="10.9" height="56.45" fill="#6495c9" />
<rect x="1576.26" y="2571.42" width="10.9" height="69.48" fill="#6495c9" />
<rect x="1592.62" y="2458.51" width="10.9" height="182.38" fill="#6495c9" />
<rect x="1592.62" y="2436.8" width="10.9" height="21.71" fill="#e5918d" />
<rect x="1608.98" y="2567.08" width="10.9" height="73.82" fill="#6495c9" />
<rect x="1608.98" y="2562.73" width="10.9" height="4.34" fill="#e5918d" />
</g>
<line x1="641.9" y1="2640.9" x2="1622.9" y2="2640.9" stroke="#444447" stroke-width="1.3"/>
<text x="1918.1" y="2308.4" font-size="18.3" fill="#45b3e5" text-anchor="end" font-weight="normal" stroke="#45b3e5" stroke-width="0.75" >min</text>
<text x="1992.3" y="2308.4" font-size="18.3" fill="#45b3e5" text-anchor="end" font-weight="normal" stroke="#45b3e5" stroke-width="0.75" >max</text>
<text x="2066" y="2308.4" font-size="18.3" fill="#45b3e5" text-anchor="end" font-weight="normal" stroke="#45b3e5" stroke-width="0.75" >avg</text>
<text x="2143.2" y="2308.4" font-size="18.3" fill="#45b3e5" text-anchor="end" font-weight="normal" stroke="#45b3e5" stroke-width="0.75" >current</text>
<text x="2217.3" y="2308.4" font-size="18.3" fill="#45b3e5" text-anchor="end" font-weight="normal" stroke="#45b3e5" stroke-width="0.75" >total</text>
<rect x="1655.2" y="2318.7" width="579" height="39.6" fill="#262628" />
<rect x="1672.2" y="2338.15" width="20" height="5.2" fill="#6495c9" rx="1.5"/>
<text x="1703.7" y="2344.05" font-size="18.3" fill="#d8d9da" text-anchor="start" font-weight="normal" stroke="#d8d9da" stroke-width="0.35" >A</text>
<text x="1918.1" y="2344.05" font-size="18.3" fill="#d8d9da" text-anchor="end" font-weight="normal" stroke="#d8d9da" stroke-width="0.35" >35</text>
<text x="1992.3" y="2344.05" font-size="18.3" fill="#d8d9da" text-anchor="end" font-weight="normal" stroke="#d8d9da" stroke-width="0.35" >385</text>
<text x="2066" y="2344.05" font-size="18.3" fill="#d8d9da" text-anchor="end" font-weight="normal" stroke="#d8d9da" stroke-width="0.35" >131</text>
<text x="2143.2" y="2344.05" font-size="18.3" fill="#d8d9da" text-anchor="end" font-weight="normal" stroke="#d8d9da" stroke-width="0.35" >85</text>
<text x="2217.3" y="2344.05" font-size="18.3" fill="#d8d9da" text-anchor="end" font-weight="normal" stroke="#d8d9da" stroke-width="0.35" >8 K</text>
<rect x="1672.2" y="2378.25" width="20" height="5.2" fill="#e5918d" rx="1.5"/>
<text x="1703.7" y="2384.15" font-size="18.3" fill="#d8d9da" text-anchor="start" font-weight="normal" stroke="#d8d9da" stroke-width="0.35" >AAAA</text>
<text x="1918.1" y="2384.15" font-size="18.3" fill="#d8d9da" text-anchor="end" font-weight="normal" stroke="#d8d9da" stroke-width="0.35" >0</text>
<text x="1992.3" y="2384.15" font-size="18.3" fill="#d8d9da" text-anchor="end" font-weight="normal" stroke="#d8d9da" stroke-width="0.35" >30</text>
<text x="2066" y="2384.15" font-size="18.3" fill="#d8d9da" text-anchor="end" font-weight="normal" stroke="#d8d9da" stroke-width="0.35" >5</text>
<text x="2143.2" y="2384.15" font-size="18.3" fill="#d8d9da" text-anchor="end" font-weight="normal" stroke="#d8d9da" stroke-width="0.35" >5</text>
<text x="2217.3" y="2384.15" font-size="18.3" fill="#d8d9da" text-anchor="end" font-weight="normal" stroke="#d8d9da" stroke-width="0.35" >290</text>
<rect x="1655.2" y="2398.9" width="579" height="39.6" fill="#262628" />
<rect x="1672.2" y="2418.35" width="20" height="5.2" fill="#ebc876" rx="1.5"/>
<text x="1703.7" y="2424.25" font-size="18.3" fill="#d8d9da" text-anchor="start" font-weight="normal" stroke="#d8d9da" stroke-width="0.35" >PTR</text>
<text x="1918.1" y="2424.25" font-size="18.3" fill="#d8d9da" text-anchor="end" font-weight="normal" stroke="#d8d9da" stroke-width="0.35" >0</text>
<text x="1992.3" y="2424.25" font-size="18.3" fill="#d8d9da" text-anchor="end" font-weight="normal" stroke="#d8d9da" stroke-width="0.35" >205</text>
<text x="2066" y="2424.25" font-size="18.3" fill="#d8d9da" text-anchor="end" font-weight="normal" stroke="#d8d9da" stroke-width="0.35" >4</text>
<text x="2143.2" y="2424.25" font-size="18.3" fill="#d8d9da" text-anchor="end" font-weight="normal" stroke="#d8d9da" stroke-width="0.35" >0</text>
<text x="2217.3" y="2424.25" font-size="18.3" fill="#d8d9da" text-anchor="end" font-weight="normal" stroke="#d8d9da" stroke-width="0.35" >260</text>
<rect x="1672.2" y="2458.45" width="20" height="5.2" fill="#b545a8" rx="1.5"/>
<text x="1703.7" y="2464.35" font-size="18.3" fill="#d8d9da" text-anchor="start" font-weight="normal" stroke="#d8d9da" stroke-width="0.35" >SOA</text>
<text x="1918.1" y="2464.35" font-size="18.3" fill="#d8d9da" text-anchor="end" font-weight="normal" stroke="#d8d9da" stroke-width="0.35" >0</text>
<text x="1992.3" y="2464.35" font-size="18.3" fill="#d8d9da" text-anchor="end" font-weight="normal" stroke="#d8d9da" stroke-width="0.35" >0</text>
<text x="2066" y="2464.35" font-size="18.3" fill="#d8d9da" text-anchor="end" font-weight="normal" stroke="#d8d9da" stroke-width="0.35" >0</text>
<text x="2143.2" y="2464.35" font-size="18.3" fill="#d8d9da" text-anchor="end" font-weight="normal" stroke="#d8d9da" stroke-width="0.35" >0</text>
<text x="2217.3" y="2464.35" font-size="18.3" fill="#d8d9da" text-anchor="end" font-weight="normal" stroke="#d8d9da" stroke-width="0.35" >0</text>
<rect x="1655.2" y="2479.1" width="579" height="39.6" fill="#262628" />
<rect x="1672.2" y="2498.55" width="20" height="5.2" fill="#8fb573" rx="1.5"/>
<text x="1703.7" y="2504.45" font-size="18.3" fill="#d8d9da" text-anchor="start" font-weight="normal" stroke="#d8d9da" stroke-width="0.35" >SRV</text>
<text x="1918.1" y="2504.45" font-size="18.3" fill="#d8d9da" text-anchor="end" font-weight="normal" stroke="#d8d9da" stroke-width="0.35" >0</text>
<text x="1992.3" y="2504.45" font-size="18.3" fill="#d8d9da" text-anchor="end" font-weight="normal" stroke="#d8d9da" stroke-width="0.35" >0</text>
<text x="2066" y="2504.45" font-size="18.3" fill="#d8d9da" text-anchor="end" font-weight="normal" stroke="#d8d9da" stroke-width="0.35" >0</text>
<text x="2143.2" y="2504.45" font-size="18.3" fill="#d8d9da" text-anchor="end" font-weight="normal" stroke="#d8d9da" stroke-width="0.35" >0</text>
<text x="2217.3" y="2504.45" font-size="18.3" fill="#d8d9da" text-anchor="end" font-weight="normal" stroke="#d8d9da" stroke-width="0.35" >0</text>
<rect x="1672.2" y="2538.65" width="20" height="5.2" fill="#5f9950" rx="1.5"/>
<text x="1703.7" y="2544.55" font-size="18.3" fill="#d8d9da" text-anchor="start" font-weight="normal" stroke="#d8d9da" stroke-width="0.35" >TXT</text>
<text x="1918.1" y="2544.55" font-size="18.3" fill="#d8d9da" text-anchor="end" font-weight="normal" stroke="#d8d9da" stroke-width="0.35" >0</text>
<text x="1992.3" y="2544.55" font-size="18.3" fill="#d8d9da" text-anchor="end" font-weight="normal" stroke="#d8d9da" stroke-width="0.35" >0</text>
<text x="2066" y="2544.55" font-size="18.3" fill="#d8d9da" text-anchor="end" font-weight="normal" stroke="#d8d9da" stroke-width="0.35" >0</text>
<text x="2143.2" y="2544.55" font-size="18.3" fill="#d8d9da" text-anchor="end" font-weight="normal" stroke="#d8d9da" stroke-width="0.35" >0</text>
<text x="2217.3" y="2544.55" font-size="18.3" fill="#d8d9da" text-anchor="end" font-weight="normal" stroke="#d8d9da" stroke-width="0.35" >0</text>
<line x1="641.9" y1="3111.4" x2="1622.9" y2="3111.4" stroke="#444447" stroke-width="1.6"/>
<text x="632.3" y="3116" font-size="17.9" fill="#dcdcdc" text-anchor="end" font-weight="normal" stroke="#dcdcdc" stroke-width="0.35" >0</text>
<line x1="641.9" y1="3024.55" x2="1622.9" y2="3024.55" stroke="#444447" stroke-width="1.6"/>
<text x="632.3" y="3029.15" font-size="17.9" fill="#dcdcdc" text-anchor="end" font-weight="normal" stroke="#dcdcdc" stroke-width="0.35" >100</text>
<line x1="641.9" y1="2937.7" x2="1622.9" y2="2937.7" stroke="#444447" stroke-width="1.6"/>
<text x="632.3" y="2942.3" font-size="17.9" fill="#dcdcdc" text-anchor="end" font-weight="normal" stroke="#dcdcdc" stroke-width="0.35" >200</text>
<line x1="641.9" y1="2850.85" x2="1622.9" y2="2850.85" stroke="#444447" stroke-width="1.6"/>
<text x="632.3" y="2855.45" font-size="17.9" fill="#dcdcdc" text-anchor="end" font-weight="normal" stroke="#dcdcdc" stroke-width="0.35" >300</text>
<line x1="641.9" y1="2764" x2="1622.9" y2="2764" stroke="#444447" stroke-width="1.6"/>
<text x="632.3" y="2768.6" font-size="17.9" fill="#dcdcdc" text-anchor="end" font-weight="normal" stroke="#dcdcdc" stroke-width="0.35" >400</text>
<line x1="710" y1="2764" x2="710" y2="3111.4" stroke="#444447" stroke-width="1.6"/>
<text x="710" y="3137.5" font-size="18.1" fill="#dcdcdc" text-anchor="middle" font-weight="normal" stroke="#dcdcdc" stroke-width="0.35" >18:20</text>
<line x1="873.34" y1="2764" x2="873.34" y2="3111.4" stroke="#444447" stroke-width="1.6"/>
<text x="873.34" y="3137.5" font-size="18.1" fill="#dcdcdc" text-anchor="middle" font-weight="normal" stroke="#dcdcdc" stroke-width="0.35" >18:30</text>
<line x1="1036.68" y1="2764" x2="1036.68" y2="3111.4" stroke="#444447" stroke-width="1.6"/>
<text x="1036.68" y="3137.5" font-size="18.1" fill="#dcdcdc" text-anchor="middle" font-weight="normal" stroke="#dcdcdc" stroke-width="0.35" >18:40</text>
<line x1="1200.02" y1="2764" x2="1200.02" y2="3111.4" stroke="#444447" stroke-width="1.6"/>
<text x="1200.02" y="3137.5" font-size="18.1" fill="#dcdcdc" text-anchor="middle" font-weight="normal" stroke="#dcdcdc" stroke-width="0.35" >18:50</text>
<line x1="1363.36" y1="2764" x2="1363.36" y2="3111.4" stroke="#444447" stroke-width="1.6"/>
<text x="1363.36" y="3137.5" font-size="18.1" fill="#dcdcdc" text-anchor="middle" font-weight="normal" stroke="#dcdcdc" stroke-width="0.35" >19:00</text>
<line x1="1526.7" y1="2764" x2="1526.7" y2="3111.4" stroke="#444447" stroke-width="1.6"/>
<text x="1526.7" y="3137.5" font-size="18.1" fill="#dcdcdc" text-anchor="middle" font-weight="normal" stroke="#dcdcdc" stroke-width="0.35" >19:10</text>
<clipPath id="c6"><rect x="641.9" y="2744" width="981" height="368"/></clipPath><g clip-path="url(#c6)">
<rect x="643.8" y="3028.89" width="10.9" height="82.51" fill="#8ab078" />
<rect x="660.16" y="3050.6" width="10.9" height="60.79" fill="#8ab078" />
<rect x="676.52" y="2981.12" width="10.9" height="130.27" fill="#8ab078" />
<rect x="692.88" y="2976.78" width="10.9" height="134.62" fill="#8ab078" />
<rect x="709.24" y="3020.21" width="10.9" height="91.19" fill="#8ab078" />
<rect x="709.24" y="3011.52" width="10.9" height="8.68" fill="#e08548" />
<rect x="725.6" y="2994.15" width="10.9" height="117.25" fill="#8ab078" />
<rect x="725.6" y="2989.81" width="10.9" height="4.34" fill="#e08548" />
<rect x="741.95" y="2989.81" width="10.9" height="121.59" fill="#8ab078" />
<rect x="758.31" y="2946.38" width="10.9" height="165.01" fill="#8ab078" />
<rect x="774.67" y="2963.75" width="10.9" height="147.64" fill="#8ab078" />
<rect x="791.03" y="3063.63" width="10.9" height="47.77" fill="#8ab078" />
<rect x="807.39" y="3041.92" width="10.9" height="69.48" fill="#8ab078" />
<rect x="823.75" y="3054.95" width="10.9" height="56.45" fill="#8ab078" />
<rect x="840.11" y="2994.15" width="10.9" height="117.25" fill="#8ab078" />
<rect x="856.47" y="2976.78" width="10.9" height="134.62" fill="#8ab078" />
<rect x="872.83" y="3050.6" width="10.9" height="60.79" fill="#8ab078" />
<rect x="889.18" y="2981.12" width="10.9" height="130.27" fill="#8ab078" />
<rect x="905.54" y="3028.89" width="10.9" height="82.51" fill="#8ab078" />
<rect x="921.9" y="2963.75" width="10.9" height="147.64" fill="#8ab078" />
<rect x="938.26" y="2933.36" width="10.9" height="178.04" fill="#8ab078" />
<rect x="938.26" y="2924.67" width="10.9" height="8.68" fill="#e08548" />
<rect x="954.62" y="2981.12" width="10.9" height="130.27" fill="#8ab078" />
<rect x="970.98" y="2863.88" width="10.9" height="247.52" fill="#8ab078" />
<rect x="987.34" y="3024.55" width="10.9" height="86.85" fill="#8ab078" />
<rect x="1003.7" y="2929.01" width="10.9" height="182.38" fill="#8ab078" />
<rect x="1020.06" y="2950.73" width="10.9" height="160.67" fill="#8ab078" />
<rect x="1020.06" y="2946.38" width="10.9" height="4.34" fill="#e08548" />
<rect x="1036.42" y="2955.07" width="10.9" height="156.33" fill="#8ab078" />
<rect x="1052.78" y="3002.84" width="10.9" height="108.56" fill="#8ab078" />
<rect x="1052.78" y="2998.49" width="10.9" height="4.34" fill="#e08548" />
<rect x="1069.13" y="2777.03" width="10.9" height="334.37" fill="#8ab078" />
<rect x="1085.49" y="2868.22" width="10.9" height="243.18" fill="#8ab078" />
<rect x="1101.85" y="2915.99" width="10.9" height="195.41" fill="#8ab078" />
<rect x="1118.21" y="3020.21" width="10.9" height="91.19" fill="#8ab078" />
<rect x="1134.57" y="2998.49" width="10.9" height="112.9" fill="#8ab078" />
<rect x="1150.93" y="3059.29" width="10.9" height="52.11" fill="#8ab078" />
<rect x="1167.29" y="2998.49" width="10.9" height="112.9" fill="#8ab078" />
<rect x="1183.65" y="2989.81" width="10.9" height="121.59" fill="#8ab078" />
<rect x="1200.01" y="2968.1" width="10.9" height="143.3" fill="#8ab078" />
<rect x="1216.37" y="3041.92" width="10.9" height="69.48" fill="#8ab078" />
<rect x="1232.72" y="3054.95" width="10.9" height="56.45" fill="#8ab078" />
<rect x="1249.08" y="3007.18" width="10.9" height="104.22" fill="#8ab078" />
<rect x="1265.44" y="2972.44" width="10.9" height="138.96" fill="#8ab078" />
<rect x="1281.8" y="3041.92" width="10.9" height="69.48" fill="#8ab078" />
<rect x="1281.8" y="3037.58" width="10.9" height="4.34" fill="#e08548" />
<rect x="1298.16" y="3050.6" width="10.9" height="60.79" fill="#8ab078" />
<rect x="1298.16" y="3046.26" width="10.9" height="4.34" fill="#e08548" />
<rect x="1314.52" y="3076.66" width="10.9" height="34.74" fill="#8ab078" />
<rect x="1330.88" y="2959.41" width="10.9" height="151.99" fill="#8ab078" />
<rect x="1347.24" y="2959.41" width="10.9" height="151.99" fill="#8ab078" />
<rect x="1347.24" y="2955.07" width="10.9" height="4.34" fill="#e08548" />
<rect x="1363.6" y="2850.85" width="10.9" height="260.55" fill="#8ab078" />
<rect x="1363.6" y="2842.16" width="10.9" height="8.68" fill="#e08548" />
<rect x="1379.95" y="3072.32" width="10.9" height="39.08" fill="#8ab078" />
<rect x="1396.31" y="3059.29" width="10.9" height="52.11" fill="#8ab078" />
<rect x="1412.67" y="2981.12" width="10.9" height="130.27" fill="#8ab078" />
<rect x="1429.03" y="2959.41" width="10.9" height="151.99" fill="#8ab078" />
<rect x="1445.39" y="2985.47" width="10.9" height="125.93" fill="#8ab078" />
<rect x="1461.75" y="3007.18" width="10.9" height="104.22" fill="#8ab078" />
<rect x="1478.11" y="3028.89" width="10.9" height="82.51" fill="#8ab078" />
<rect x="1494.47" y="2972.44" width="10.9" height="138.96" fill="#8ab078" />
<rect x="1510.83" y="2959.41" width="10.9" height="151.99" fill="#8ab078" />
<rect x="1527.19" y="2972.44" width="10.9" height="138.96" fill="#8ab078" />
<rect x="1543.55" y="3041.92" width="10.9" height="69.48" fill="#8ab078" />
<rect x="1543.55" y="3020.21" width="10.9" height="21.71" fill="#e08548" />
<rect x="1559.9" y="3054.95" width="10.9" height="56.45" fill="#8ab078" />
<rect x="1576.26" y="3041.92" width="10.9" height="69.48" fill="#8ab078" />
<rect x="1592.62" y="2907.3" width="10.9" height="204.1" fill="#8ab078" />
<rect x="1608.98" y="3033.23" width="10.9" height="78.16" fill="#8ab078" />
</g>
<line x1="641.9" y1="3111.4" x2="1622.9" y2="3111.4" stroke="#444447" stroke-width="1.3"/>
<text x="1923.2" y="2778.9" font-size="18.3" fill="#45b3e5" text-anchor="end" font-weight="normal" stroke="#45b3e5" stroke-width="0.75" >min</text>
<text x="1997.4" y="2778.9" font-size="18.3" fill="#45b3e5" text-anchor="end" font-weight="normal" stroke="#45b3e5" stroke-width="0.75" >max</text>
<text x="2071.1" y="2778.9" font-size="18.3" fill="#45b3e5" text-anchor="end" font-weight="normal" stroke="#45b3e5" stroke-width="0.75" >avg</text>
<text x="2148.2" y="2778.9" font-size="18.3" fill="#45b3e5" text-anchor="end" font-weight="normal" stroke="#45b3e5" stroke-width="0.75" >current</text>
<text x="2217.3" y="2778.9" font-size="18.3" fill="#45b3e5" text-anchor="end" font-weight="normal" stroke="#45b3e5" stroke-width="0.75" >total</text>
<rect x="1655.2" y="2789.2" width="579" height="39.6" fill="#262628" />
<rect x="1672.2" y="2808.65" width="20" height="5.2" fill="#ebc876" rx="1.5"/>
<text x="1703.7" y="2814.55" font-size="18.3" fill="#d8d9da" text-anchor="start" font-weight="normal" stroke="#d8d9da" stroke-width="0.35" >FORMERR</text>
<text x="1923.2" y="2814.55" font-size="18.3" fill="#d8d9da" text-anchor="end" font-weight="normal" stroke="#d8d9da" stroke-width="0.35" >0</text>
<text x="1997.4" y="2814.55" font-size="18.3" fill="#d8d9da" text-anchor="end" font-weight="normal" stroke="#d8d9da" stroke-width="0.35" >0</text>
<text x="2071.1" y="2814.55" font-size="18.3" fill="#d8d9da" text-anchor="end" font-weight="normal" stroke="#d8d9da" stroke-width="0.35" >0</text>
<text x="2148.2" y="2814.55" font-size="18.3" fill="#d8d9da" text-anchor="end" font-weight="normal" stroke="#d8d9da" stroke-width="0.35" >0</text>
<text x="2217.3" y="2814.55" font-size="18.3" fill="#d8d9da" text-anchor="end" font-weight="normal" stroke="#d8d9da" stroke-width="0.35" >0</text>
<rect x="1672.2" y="2848.75" width="20" height="5.2" fill="#8ab078" rx="1.5"/>
<text x="1703.7" y="2854.65" font-size="18.3" fill="#d8d9da" text-anchor="start" font-weight="normal" stroke="#d8d9da" stroke-width="0.35" >NOERROR</text>
<text x="1923.2" y="2854.65" font-size="18.3" fill="#d8d9da" text-anchor="end" font-weight="normal" stroke="#d8d9da" stroke-width="0.35" >40</text>
<text x="1997.4" y="2854.65" font-size="18.3" fill="#d8d9da" text-anchor="end" font-weight="normal" stroke="#d8d9da" stroke-width="0.35" >385</text>
<text x="2071.1" y="2854.65" font-size="18.3" fill="#d8d9da" text-anchor="end" font-weight="normal" stroke="#d8d9da" stroke-width="0.35" >139</text>
<text x="2148.2" y="2854.65" font-size="18.3" fill="#d8d9da" text-anchor="end" font-weight="normal" stroke="#d8d9da" stroke-width="0.35" >90</text>
<text x="2217.3" y="2854.65" font-size="18.3" fill="#d8d9da" text-anchor="end" font-weight="normal" stroke="#d8d9da" stroke-width="0.35" >8 K</text>
<rect x="1655.2" y="2869.4" width="579" height="39.6" fill="#262628" />
<rect x="1672.2" y="2888.85" width="20" height="5.2" fill="#447ebc" rx="1.5"/>
<text x="1703.7" y="2894.75" font-size="18.3" fill="#d8d9da" text-anchor="start" font-weight="normal" stroke="#d8d9da" stroke-width="0.35" >NOTIMPL</text>
<text x="1923.2" y="2894.75" font-size="18.3" fill="#d8d9da" text-anchor="end" font-weight="normal" stroke="#d8d9da" stroke-width="0.35" >0</text>
<text x="1997.4" y="2894.75" font-size="18.3" fill="#d8d9da" text-anchor="end" font-weight="normal" stroke="#d8d9da" stroke-width="0.35" >0</text>
<text x="2071.1" y="2894.75" font-size="18.3" fill="#d8d9da" text-anchor="end" font-weight="normal" stroke="#d8d9da" stroke-width="0.35" >0</text>
<text x="2148.2" y="2894.75" font-size="18.3" fill="#d8d9da" text-anchor="end" font-weight="normal" stroke="#d8d9da" stroke-width="0.35" >0</text>
<text x="2217.3" y="2894.75" font-size="18.3" fill="#d8d9da" text-anchor="end" font-weight="normal" stroke="#d8d9da" stroke-width="0.35" >0</text>
<rect x="1672.2" y="2928.95" width="20" height="5.2" fill="#e08548" rx="1.5"/>
<text x="1703.7" y="2934.85" font-size="18.3" fill="#d8d9da" text-anchor="start" font-weight="normal" stroke="#d8d9da" stroke-width="0.35" >NXDOMAIN</text>
<text x="1923.2" y="2934.85" font-size="18.3" fill="#d8d9da" text-anchor="end" font-weight="normal" stroke="#d8d9da" stroke-width="0.35" >0</text>
<text x="1997.4" y="2934.85" font-size="18.3" fill="#d8d9da" text-anchor="end" font-weight="normal" stroke="#d8d9da" stroke-width="0.35" >25</text>
<text x="2071.1" y="2934.85" font-size="18.3" fill="#d8d9da" text-anchor="end" font-weight="normal" stroke="#d8d9da" stroke-width="0.35" >1</text>
<text x="2148.2" y="2934.85" font-size="18.3" fill="#d8d9da" text-anchor="end" font-weight="normal" stroke="#d8d9da" stroke-width="0.35" >0</text>
<text x="2217.3" y="2934.85" font-size="18.3" fill="#d8d9da" text-anchor="end" font-weight="normal" stroke="#d8d9da" stroke-width="0.35" >85</text>
<rect x="1655.2" y="2949.6" width="579" height="39.6" fill="#262628" />
<rect x="1672.2" y="2969.05" width="20" height="5.2" fill="#de5546" rx="1.5"/>
<text x="1703.7" y="2974.95" font-size="18.3" fill="#d8d9da" text-anchor="start" font-weight="normal" stroke="#d8d9da" stroke-width="0.35" >REFUSED</text>
<text x="1923.2" y="2974.95" font-size="18.3" fill="#d8d9da" text-anchor="end" font-weight="normal" stroke="#d8d9da" stroke-width="0.35" >0</text>
<text x="1997.4" y="2974.95" font-size="18.3" fill="#d8d9da" text-anchor="end" font-weight="normal" stroke="#d8d9da" stroke-width="0.35" >0</text>
<text x="2071.1" y="2974.95" font-size="18.3" fill="#d8d9da" text-anchor="end" font-weight="normal" stroke="#d8d9da" stroke-width="0.35" >0</text>
<text x="2148.2" y="2974.95" font-size="18.3" fill="#d8d9da" text-anchor="end" font-weight="normal" stroke="#d8d9da" stroke-width="0.35" >0</text>
<text x="2217.3" y="2974.95" font-size="18.3" fill="#d8d9da" text-anchor="end" font-weight="normal" stroke="#d8d9da" stroke-width="0.35" >0</text>
<rect x="1672.2" y="3009.15" width="20" height="5.2" fill="#64a0dc" rx="1.5"/>
<text x="1703.7" y="3015.05" font-size="18.3" fill="#d8d9da" text-anchor="start" font-weight="normal" stroke="#d8d9da" stroke-width="0.35" >SERVFAIL</text>
<text x="1923.2" y="3015.05" font-size="18.3" fill="#d8d9da" text-anchor="end" font-weight="normal" stroke="#d8d9da" stroke-width="0.35" >0</text>
<text x="1997.4" y="3015.05" font-size="18.3" fill="#d8d9da" text-anchor="end" font-weight="normal" stroke="#d8d9da" stroke-width="0.35" >0</text>
<text x="2071.1" y="3015.05" font-size="18.3" fill="#d8d9da" text-anchor="end" font-weight="normal" stroke="#d8d9da" stroke-width="0.35" >0</text>
<text x="2148.2" y="3015.05" font-size="18.3" fill="#d8d9da" text-anchor="end" font-weight="normal" stroke="#d8d9da" stroke-width="0.35" >0</text>
<text x="2217.3" y="3015.05" font-size="18.3" fill="#d8d9da" text-anchor="end" font-weight="normal" stroke="#d8d9da" stroke-width="0.35" >0</text>
<path d="M349.6 338.3A179.6 179.6 0 0 1 501.24 421.67L425.25 469.89A89.6 89.6 0 0 0 349.6 428.3Z" fill="#e3b752" stroke="#151517" stroke-width="2.6" stroke-linejoin="round"/>
<path d="M501.24 421.67A179.6 179.6 0 1 1 349.6 338.3L349.6 428.3A89.6 89.6 0 1 0 425.25 469.89Z" fill="#70609e" stroke="#151517" stroke-width="2.6" stroke-linejoin="round"/>
<text x="386" y="874.3" font-size="18.3" fill="#45b3e5" text-anchor="end" font-weight="normal" stroke="#45b3e5" stroke-width="0.75" >current</text>
<text x="497" y="874.3" font-size="18.3" fill="#45b3e5" text-anchor="end" font-weight="normal" stroke="#45b3e5" stroke-width="0.75" >percentage</text>
<rect x="176.8" y="900.1" width="20" height="5" fill="#7eb26d" rx="1.5"/>
<text x="208.7" y="906.2" font-size="18.3" fill="#d8d9da" text-anchor="start" font-weight="normal" stroke="#d8d9da" stroke-width="0.35" >Close Wait</text>
<text x="386" y="906.2" font-size="18.3" fill="#d8d9da" text-anchor="end" font-weight="normal" stroke="#d8d9da" stroke-width="0.35" >0</text>
<text x="497" y="906.2" font-size="18.3" fill="#d8d9da" text-anchor="end" font-weight="normal" stroke="#d8d9da" stroke-width="0.35" >0%</text>
<rect x="176.8" y="916.85" width="337.4" height="33" fill="#262628" />
<rect x="176.8" y="932.55" width="20" height="5" fill="#e3b752" rx="1.5"/>
<text x="208.7" y="938.65" font-size="18.3" fill="#d8d9da" text-anchor="start" font-weight="normal" stroke="#d8d9da" stroke-width="0.35" >Established</text>
<text x="386" y="938.65" font-size="18.3" fill="#d8d9da" text-anchor="end" font-weight="normal" stroke="#d8d9da" stroke-width="0.35" >4</text>
<text x="497" y="938.65" font-size="18.3" fill="#d8d9da" text-anchor="end" font-weight="normal" stroke="#d8d9da" stroke-width="0.35" >16%</text>
<rect x="176.8" y="967" width="20" height="5" fill="#7d6fb8" rx="1.5"/>
<text x="208.7" y="973.1" font-size="18.3" fill="#d8d9da" text-anchor="start" font-weight="normal" stroke="#d8d9da" stroke-width="0.35" >Listen</text>
<text x="386" y="973.1" font-size="18.3" fill="#d8d9da" text-anchor="end" font-weight="normal" stroke="#d8d9da" stroke-width="0.35" >21</text>
<text x="497" y="973.1" font-size="18.3" fill="#d8d9da" text-anchor="end" font-weight="normal" stroke="#d8d9da" stroke-width="0.35" >84%</text>
<rect x="176.8" y="983.75" width="337.4" height="33" fill="#262628" />
<rect x="176.8" y="999.45" width="20" height="5" fill="#5b9bdb" rx="1.5"/>
<text x="208.7" y="1005.55" font-size="18.3" fill="#d8d9da" text-anchor="start" font-weight="normal" stroke="#d8d9da" stroke-width="0.35" >Time Wait</text>
<text x="386" y="1005.55" font-size="18.3" fill="#d8d9da" text-anchor="end" font-weight="normal" stroke="#d8d9da" stroke-width="0.35" >0</text>
<text x="497" y="1005.55" font-size="18.3" fill="#d8d9da" text-anchor="end" font-weight="normal" stroke="#d8d9da" stroke-width="0.35" >0%</text>
<rect x="176.8" y="1033.9" width="20" height="5" fill="#de5546" rx="1.5"/>
<text x="208.7" y="1040" font-size="18.3" fill="#d8d9da" text-anchor="start" font-weight="normal" stroke="#d8d9da" stroke-width="0.35" >None</text>
<text x="386" y="1040" font-size="18.3" fill="#d8d9da" text-anchor="end" font-weight="normal" stroke="#d8d9da" stroke-width="0.35" >0</text>
<text x="497" y="1040" font-size="18.3" fill="#d8d9da" text-anchor="end" font-weight="normal" stroke="#d8d9da" stroke-width="0.35" >0%</text>
<path d="M349.4 1911.8A93.8 93.8 0 1 1 312 1919.58L324.44 1948.19A62.6 62.6 0 1 0 349.4 1943Z" fill="#719c5d" stroke="#151517" stroke-width="2.9" stroke-linejoin="round"/>
<path d="M312 1919.58A93.8 93.8 0 0 1 349.4 1911.8L349.4 1943A62.6 62.6 0 0 0 324.44 1948.19Z" fill="#ad2f1a" stroke="#151517" stroke-width="2.9" stroke-linejoin="round"/>
<text x="324.4" y="1859.8" font-size="22" fill="#ad2f1a" text-anchor="middle" font-weight="normal" stroke="#ad2f1a" stroke-width="0.3" >Misses</text>
<text x="324.4" y="1891.8" font-size="22" fill="#ad2f1a" text-anchor="middle" font-weight="normal" stroke="#ad2f1a" stroke-width="0.3" >2.322 K</text>
<text x="324.4" y="1923.8" font-size="22" fill="#ad2f1a" text-anchor="middle" font-weight="normal" stroke="#ad2f1a" stroke-width="0.3" >6.53%</text>
<text x="374.7" y="2106.3" font-size="22" fill="#719c5d" text-anchor="middle" font-weight="normal" stroke="#719c5d" stroke-width="0.3" >Hits</text>
<text x="374.7" y="2137.8" font-size="22" fill="#719c5d" text-anchor="middle" font-weight="normal" stroke="#719c5d" stroke-width="0.3" >33.2 K</text>
<text x="374.7" y="2169.3" font-size="22" fill="#719c5d" text-anchor="middle" font-weight="normal" stroke="#719c5d" stroke-width="0.3" >93.47%</text>
<text x="349.8" y="1216.6" text-anchor="middle"><tspan font-size="77" fill="#509e4f" stroke="#509e4f" stroke-width="3.08">22</tspan><tspan font-size="33" fill="#dcdcdc" stroke="#dcdcdc" stroke-width="1.5" dx="10">ms</tspan></text>
<polygon points="145.07,1243 148.44,1253.89 152.07,1221.48 155.45,1253.89 178.78,1253.89 182.67,1240.15 186.04,1253.89 189.67,1244.82 193.04,1240.41 196.41,1241.19 199.78,1253.89 213.26,1253.89 216.89,1244.82 220.26,1241.45 224.15,1249.48 226.74,1251.3 230.11,1240.15 234,1253.89 239.71,1252.6 244.12,1239.63 248,1253.89 250.6,1252.6 254.49,1238.59 258.37,1253.89 265.63,1253.11 279.89,1253.89 285.08,1244.3 288.45,1253.89 291.82,1243.52 295.71,1253.89 305.82,1253.89 309.19,1250 312.82,1253.89 316.19,1253.11 319.56,1223.56 323.19,1237.56 326.56,1238.08 329.93,1253.89 346.01,1253.89 349.9,1237.04 353.79,1253.89 374.01,1253.89 377.64,1239.63 381.27,1253.89 400.45,1253.37 447.12,1253.89 451.79,1247.93 455.42,1247.93 459.05,1253.89 462.68,1244.3 466.05,1253.89 472.53,1253.89 476.16,1245.34 480.05,1253.89 489.9,1253.89 493.27,1245.85 496.9,1253.89 499.75,1253.11 503.64,1243.52 507.27,1252.08 510.38,1244.04 514.01,1251.56 517.13,1241.71 521.01,1253.89 548.24,1253.11 551.61,1253.89 551.61,1254.3 145.07,1254.3" fill="rgba(45,105,175,0.22)"/>
<polyline points="145.07,1243 148.44,1253.89 152.07,1221.48 155.45,1253.89 178.78,1253.89 182.67,1240.15 186.04,1253.89 189.67,1244.82 193.04,1240.41 196.41,1241.19 199.78,1253.89 213.26,1253.89 216.89,1244.82 220.26,1241.45 224.15,1249.48 226.74,1251.3 230.11,1240.15 234,1253.89 239.71,1252.6 244.12,1239.63 248,1253.89 250.6,1252.6 254.49,1238.59 258.37,1253.89 265.63,1253.11 279.89,1253.89 285.08,1244.3 288.45,1253.89 291.82,1243.52 295.71,1253.89 305.82,1253.89 309.19,1250 312.82,1253.89 316.19,1253.11 319.56,1223.56 323.19,1237.56 326.56,1238.08 329.93,1253.89 346.01,1253.89 349.9,1237.04 353.79,1253.89 374.01,1253.89 377.64,1239.63 381.27,1253.89 400.45,1253.37 447.12,1253.89 451.79,1247.93 455.42,1247.93 459.05,1253.89 462.68,1244.3 466.05,1253.89 472.53,1253.89 476.16,1245.34 480.05,1253.89 489.9,1253.89 493.27,1245.85 496.9,1253.89 499.75,1253.11 503.64,1243.52 507.27,1252.08 510.38,1244.04 514.01,1251.56 517.13,1241.71 521.01,1253.89 548.24,1253.11 551.61,1253.89" fill="none" stroke="#3a7ec6" stroke-width="1.7" stroke-linejoin="round"/>
<text x="349.8" y="1418.6" text-anchor="middle"><tspan font-size="77" fill="#509e4f" stroke="#509e4f" stroke-width="3.08">0.28</tspan><tspan font-size="33" fill="#dcdcdc" stroke="#dcdcdc" stroke-width="1.5" dx="10">ms</tspan></text>
<polygon points="145,1430.5 147.73,1433.79 150.47,1444.13 153.2,1434.97 155.93,1433.55 158.66,1428.67 161.4,1430.8 164.13,1431.61 166.86,1436.69 169.6,1445.14 172.33,1446.63 175.06,1432.53 177.79,1442.76 180.53,1432.4 183.26,1448.99 185.99,1445.24 188.73,1431.62 191.46,1446.53 194.19,1444.23 196.92,1432.82 199.66,1442.55 202.39,1435.02 205.12,1443.63 207.86,1445.43 210.59,1427.33 213.32,1434.88 216.06,1441.56 218.79,1438.77 221.52,1428.62 224.25,1426.76 226.99,1429.66 229.72,1437.53 232.45,1444.34 235.19,1442.35 237.92,1444.24 240.65,1429.92 243.38,1426.61 246.12,1437.24 248.85,1439.96 251.58,1424.07 254.32,1426.03 257.05,1437.63 259.78,1444.05 262.51,1433.05 265.25,1430.06 267.98,1421.62 270.71,1422.44 273.45,1424.8 276.18,1445.45 278.91,1439.35 281.64,1430.42 284.38,1439.99 287.11,1430.22 289.84,1437.78 292.58,1426.06 295.31,1427.05 298.04,1445.93 300.77,1429.41 303.51,1444.37 306.24,1427.82 308.97,1433.7 311.71,1426.99 314.44,1442.61 317.17,1444.65 319.9,1449.54 322.64,1436.31 325.37,1443.31 328.1,1433.35 330.84,1436.25 333.57,1433.63 336.3,1442.77 339.03,1446.17 341.77,1431.43 344.5,1437.62 347.23,1448.99 349.97,1447.46 352.7,1437.13 355.43,1432.32 358.17,1449.63 360.9,1436.16 363.63,1429.17 366.36,1454.86 369.1,1445.2 371.83,1446.25 374.56,1429.58 377.3,1426.07 380.03,1426.49 382.76,1428.78 385.49,1429.68 388.23,1450.07 390.96,1434.59 393.69,1440.52 396.43,1427.15 399.16,1424.61 401.89,1439.16 404.62,1442.69 407.36,1422.65 410.09,1426.56 412.82,1426.17 415.56,1441.06 418.29,1421.57 421.02,1435.39 423.75,1436.2 426.49,1442.36 429.22,1429.16 431.95,1437.92 434.69,1435.99 437.42,1440.48 440.15,1428.39 442.88,1449.78 445.62,1429.23 448.35,1424.92 451.08,1426.14 453.82,1441.61 456.55,1448.99 459.28,1439.7 462.01,1436.33 464.75,1433.3 467.48,1433.02 470.21,1453.58 472.95,1428.05 475.68,1435.26 478.41,1446.12 481.14,1446.07 483.88,1448.98 486.61,1437.74 489.34,1433.33 492.08,1442.96 494.81,1447.89 497.54,1450.66 500.28,1428.97 503.01,1434.01 505.74,1437.05 508.47,1452.41 511.21,1448.76 513.94,1445.99 516.67,1432.11 519.41,1439.9 522.14,1448.22 524.87,1434.73 527.6,1437.31 530.34,1440.68 533.07,1434.5 535.8,1431.99 538.54,1437.05 541.27,1431.67 544,1426.11 546.73,1442.54 549.47,1436.66 552.2,1430.61 552.2,1456.5 145,1456.5" fill="rgba(45,105,175,0.22)"/>
<polyline points="145,1430.5 147.73,1433.79 150.47,1444.13 153.2,1434.97 155.93,1433.55 158.66,1428.67 161.4,1430.8 164.13,1431.61 166.86,1436.69 169.6,1445.14 172.33,1446.63 175.06,1432.53 177.79,1442.76 180.53,1432.4 183.26,1448.99 185.99,1445.24 188.73,1431.62 191.46,1446.53 194.19,1444.23 196.92,1432.82 199.66,1442.55 202.39,1435.02 205.12,1443.63 207.86,1445.43 210.59,1427.33 213.32,1434.88 216.06,1441.56 218.79,1438.77 221.52,1428.62 224.25,1426.76 226.99,1429.66 229.72,1437.53 232.45,1444.34 235.19,1442.35 237.92,1444.24 240.65,1429.92 243.38,1426.61 246.12,1437.24 248.85,1439.96 251.58,1424.07 254.32,1426.03 257.05,1437.63 259.78,1444.05 262.51,1433.05 265.25,1430.06 267.98,1421.62 270.71,1422.44 273.45,1424.8 276.18,1445.45 278.91,1439.35 281.64,1430.42 284.38,1439.99 287.11,1430.22 289.84,1437.78 292.58,1426.06 295.31,1427.05 298.04,1445.93 300.77,1429.41 303.51,1444.37 306.24,1427.82 308.97,1433.7 311.71,1426.99 314.44,1442.61 317.17,1444.65 319.9,1449.54 322.64,1436.31 325.37,1443.31 328.1,1433.35 330.84,1436.25 333.57,1433.63 336.3,1442.77 339.03,1446.17 341.77,1431.43 344.5,1437.62 347.23,1448.99 349.97,1447.46 352.7,1437.13 355.43,1432.32 358.17,1449.63 360.9,1436.16 363.63,1429.17 366.36,1454.86 369.1,1445.2 371.83,1446.25 374.56,1429.58 377.3,1426.07 380.03,1426.49 382.76,1428.78 385.49,1429.68 388.23,1450.07 390.96,1434.59 393.69,1440.52 396.43,1427.15 399.16,1424.61 401.89,1439.16 404.62,1442.69 407.36,1422.65 410.09,1426.56 412.82,1426.17 415.56,1441.06 418.29,1421.57 421.02,1435.39 423.75,1436.2 426.49,1442.36 429.22,1429.16 431.95,1437.92 434.69,1435.99 437.42,1440.48 440.15,1428.39 442.88,1449.78 445.62,1429.23 448.35,1424.92 451.08,1426.14 453.82,1441.61 456.55,1448.99 459.28,1439.7 462.01,1436.33 464.75,1433.3 467.48,1433.02 470.21,1453.58 472.95,1428.05 475.68,1435.26 478.41,1446.12 481.14,1446.07 483.88,1448.98 486.61,1437.74 489.34,1433.33 492.08,1442.96 494.81,1447.89 497.54,1450.66 500.28,1428.97 503.01,1434.01 505.74,1437.05 508.47,1452.41 511.21,1448.76 513.94,1445.99 516.67,1432.11 519.41,1439.9 522.14,1448.22 524.87,1434.73 527.6,1437.31 530.34,1440.68 533.07,1434.5 535.8,1431.99 538.54,1437.05 541.27,1431.67 544,1426.11 546.73,1442.54 549.47,1436.66 552.2,1430.61" fill="none" stroke="#3a7ec6" stroke-width="1.7" stroke-linejoin="round"/>
<text x="349.8" y="1620.3" text-anchor="middle"><tspan font-size="77" fill="#509e4f" stroke="#509e4f" stroke-width="3.08">0.62</tspan><tspan font-size="33" fill="#dcdcdc" stroke="#dcdcdc" stroke-width="1.5" dx="10">ms</tspan></text>
<polygon points="145.3,1625.5 148.5,1646 150.47,1650.81 153.2,1646.91 155.93,1647.5 158.66,1648.4 161.4,1644.92 164.13,1647.99 166.86,1649.13 169.6,1650.63 172.33,1644.34 175.06,1646.18 177.79,1644.18 180.53,1650.53 183.26,1649.33 185.99,1643.27 188.73,1651.53 191.46,1651.14 194.19,1648.1 196.92,1647.5 199.66,1643.13 202.39,1641.61 205.12,1646 207.86,1641.58 210.59,1642.58 213.32,1642.9 216.06,1640.88 218.79,1644.71 221.52,1644.47 224.25,1648.09 226.99,1645.23 229.72,1646.41 232.45,1645.28 235.19,1646.9 237.92,1645.25 240.65,1643.85 243.38,1650.56 246.12,1650.79 248.85,1649.64 251.58,1648.69 254.32,1645.4 257.05,1644.85 259.78,1645.59 262.51,1643.79 265.25,1650.2 267.98,1647.01 270.71,1651.09 273.45,1646.98 276.18,1652.11 278.91,1651.05 281.64,1643.34 284.38,1645.09 287.11,1651.22 289.84,1647.07 292.58,1651.44 295.31,1645.96 298.04,1642.79 300.77,1647.55 303.51,1648.65 306.24,1643.83 308.97,1641.97 311.71,1643.98 314.44,1649.49 317.17,1647.5 319.9,1641.64 322.64,1642.74 325.37,1641.41 328.1,1641.06 330.84,1647.76 333.57,1642.29 336.3,1645.86 339.03,1645.02 341.77,1642.91 344.5,1648 347.23,1642.83 349.97,1647.69 352.7,1643.2 355.43,1646.18 358.17,1644.55 360.9,1645.28 363.63,1651.78 366.36,1650.44 369.1,1646.07 371.83,1651.4 374.56,1645.38 377.3,1647.05 380.03,1651.16 382.76,1649.18 385.49,1644.2 388.23,1652.05 390.96,1644.89 393.69,1645.1 396.43,1649.5 399.16,1645.27 401.89,1644.73 404.62,1642.47 407.36,1642.38 410.09,1646.58 412.82,1643.31 415.56,1646.34 418.29,1644.12 421.02,1644.73 423.75,1649.19 426.49,1644.86 429.22,1645.67 431.95,1648.34 434.69,1642.26 437.42,1642.11 440.15,1649.05 442.88,1648.41 445.62,1643.51 448.35,1643.19 451.08,1648.38 453.82,1650.44 456.55,1643.99 459.28,1651.02 462.01,1650.64 464.75,1648.34 467.48,1646.89 470.21,1644.18 472.95,1643.72 475.68,1652.12 478.41,1645.64 481.14,1649.84 483.88,1633.5 486.61,1650.79 489.34,1648.62 492.08,1645.74 494.81,1644.5 497.54,1649.19 500.28,1643.1 503.01,1644.29 505.74,1647.02 508.47,1649.41 511.21,1647.03 513.94,1643.79 516.67,1649.32 519.41,1642.72 522.14,1657 524.87,1643.04 527.6,1644.55 530.34,1641.05 533.07,1642.09 535.8,1643.87 538.54,1645.79 541.27,1641.95 544,1644.18 546.73,1649.13 549.47,1650.15 552.2,1647.47 552.2,1657.5 145.3,1657.5" fill="rgba(45,105,175,0.22)"/>
<polyline points="145.3,1625.5 148.5,1646 150.47,1650.81 153.2,1646.91 155.93,1647.5 158.66,1648.4 161.4,1644.92 164.13,1647.99 166.86,1649.13 169.6,1650.63 172.33,1644.34 175.06,1646.18 177.79,1644.18 180.53,1650.53 183.26,1649.33 185.99,1643.27 188.73,1651.53 191.46,1651.14 194.19,1648.1 196.92,1647.5 199.66,1643.13 202.39,1641.61 205.12,1646 207.86,1641.58 210.59,1642.58 213.32,1642.9 216.06,1640.88 218.79,1644.71 221.52,1644.47 224.25,1648.09 226.99,1645.23 229.72,1646.41 232.45,1645.28 235.19,1646.9 237.92,1645.25 240.65,1643.85 243.38,1650.56 246.12,1650.79 248.85,1649.64 251.58,1648.69 254.32,1645.4 257.05,1644.85 259.78,1645.59 262.51,1643.79 265.25,1650.2 267.98,1647.01 270.71,1651.09 273.45,1646.98 276.18,1652.11 278.91,1651.05 281.64,1643.34 284.38,1645.09 287.11,1651.22 289.84,1647.07 292.58,1651.44 295.31,1645.96 298.04,1642.79 300.77,1647.55 303.51,1648.65 306.24,1643.83 308.97,1641.97 311.71,1643.98 314.44,1649.49 317.17,1647.5 319.9,1641.64 322.64,1642.74 325.37,1641.41 328.1,1641.06 330.84,1647.76 333.57,1642.29 336.3,1645.86 339.03,1645.02 341.77,1642.91 344.5,1648 347.23,1642.83 349.97,1647.69 352.7,1643.2 355.43,1646.18 358.17,1644.55 360.9,1645.28 363.63,1651.78 366.36,1650.44 369.1,1646.07 371.83,1651.4 374.56,1645.38 377.3,1647.05 380.03,1651.16 382.76,1649.18 385.49,1644.2 388.23,1652.05 390.96,1644.89 393.69,1645.1 396.43,1649.5 399.16,1645.27 401.89,1644.73 404.62,1642.47 407.36,1642.38 410.09,1646.58 412.82,1643.31 415.56,1646.34 418.29,1644.12 421.02,1644.73 423.75,1649.19 426.49,1644.86 429.22,1645.67 431.95,1648.34 434.69,1642.26 437.42,1642.11 440.15,1649.05 442.88,1648.41 445.62,1643.51 448.35,1643.19 451.08,1648.38 453.82,1650.44 456.55,1643.99 459.28,1651.02 462.01,1650.64 464.75,1648.34 467.48,1646.89 470.21,1644.18 472.95,1643.72 475.68,1652.12 478.41,1645.64 481.14,1649.84 483.88,1633.5 486.61,1650.79 489.34,1648.62 492.08,1645.74 494.81,1644.5 497.54,1649.19 500.28,1643.1 503.01,1644.29 505.74,1647.02 508.47,1649.41 511.21,1647.03 513.94,1643.79 516.67,1649.32 519.41,1642.72 522.14,1657 524.87,1643.04 527.6,1644.55 530.34,1641.05 533.07,1642.09 535.8,1643.87 538.54,1645.79 541.27,1641.95 544,1644.18 546.73,1649.13 549.47,1650.15 552.2,1647.47" fill="none" stroke="#3a7ec6" stroke-width="1.7" stroke-linejoin="round"/>
<text x="349.8" y="2500.2" font-size="72.9" fill="#dcdcdc" text-anchor="middle" font-weight="normal" stroke="#dcdcdc" stroke-width="2.92" >34732</text>
<polygon points="144.8,2540.9 210,2536.5 324,2526.3 341,2522.5 360,2520.5 443.5,2516.6 449.3,2515.5 500,2512 554.3,2508.8 554.3,2541.8 144.8,2541.8" fill="rgba(45,105,175,0.22)"/>
<polyline points="144.8,2540.9 210,2536.5 324,2526.3 341,2522.5 360,2520.5 443.5,2516.6 449.3,2515.5 500,2512 554.3,2508.8" fill="none" stroke="#3a7ec6" stroke-width="1.7" stroke-linejoin="round"/>
<text x="349.8" y="2698.6" font-size="52" fill="#dcdcdc" text-anchor="middle" font-weight="normal" stroke="#dcdcdc" stroke-width="2.08" >1.687 K</text>
<polygon points="145,2737.35 148.42,2738.66 151.84,2739.24 155.27,2740.86 158.69,2738.63 162.11,2740.64 165.53,2730.81 168.95,2735.61 172.37,2740.86 175.8,2737.62 179.22,2740.39 182.64,2731.72 186.06,2735.62 189.48,2733.17 192.91,2736.43 196.33,2736.74 199.75,2730.56 203.17,2732.78 206.59,2733.45 210.02,2740.43 213.44,2738.74 216.86,2732.03 220.28,2739 223.7,2731.71 227.12,2736.92 230.55,2731.46 233.97,2730.01 237.39,2739.5 240.81,2732.13 244.23,2732.1 247.66,2740.43 251.08,2739.11 254.5,2732.58 257.92,2739.85 261.34,2735.07 264.76,2736.46 268.19,2731.11 271.61,2739.07 275.03,2736.17 278.45,2739.07 281.87,2738.13 285.3,2731.45 288.72,2732.01 292.14,2729.75 295.56,2729.42 298.98,2728.44 302.41,2730.96 305.83,2734.22 309.25,2727.57 312.67,2734.97 316.09,2731.22 319.51,2730.92 322.94,2724 326.36,2710.8 329.78,2719 333.2,2727 336.62,2735.57 340.05,2728.55 343.47,2738.76 346.89,2728.42 350.31,2736.54 353.73,2737.73 357.15,2728.78 360.58,2737.38 364,2732.89 367.42,2735.37 370.84,2729.24 374.26,2729.78 377.69,2731.39 381.11,2740.02 384.53,2731.79 387.95,2738.04 391.37,2740.05 394.79,2740.28 398.22,2733.78 401.64,2733.97 405.06,2735.9 408.48,2738.72 411.9,2731.42 415.33,2738.51 418.75,2739.08 422.17,2739.8 425.59,2730.78 429.01,2740.8 432.44,2731.42 435.86,2734.18 439.28,2737.16 442.7,2728 446.12,2713.6 449.54,2740.64 452.97,2742.5 456.39,2742 459.81,2733.97 463.23,2732.44 466.65,2731.35 470.08,2732.13 473.5,2738.08 476.92,2741.46 480.34,2732.27 483.76,2731.03 487.18,2741.35 490.61,2736.37 494.03,2734.96 497.45,2733.11 500.87,2737.03 504.29,2739.59 507.72,2735.51 511.14,2735.14 514.56,2731.11 517.98,2740.58 521.4,2730.86 524.83,2735.93 528.25,2739.72 531.67,2731.94 535.09,2738.55 538.51,2740.95 541.93,2737.43 545.36,2739.17 548.78,2731.67 552.2,2735.28 552.2,2743.5 145,2743.5" fill="rgba(45,105,175,0.22)"/>
<polyline points="145,2737.35 148.42,2738.66 151.84,2739.24 155.27,2740.86 158.69,2738.63 162.11,2740.64 165.53,2730.81 168.95,2735.61 172.37,2740.86 175.8,2737.62 179.22,2740.39 182.64,2731.72 186.06,2735.62 189.48,2733.17 192.91,2736.43 196.33,2736.74 199.75,2730.56 203.17,2732.78 206.59,2733.45 210.02,2740.43 213.44,2738.74 216.86,2732.03 220.28,2739 223.7,2731.71 227.12,2736.92 230.55,2731.46 233.97,2730.01 237.39,2739.5 240.81,2732.13 244.23,2732.1 247.66,2740.43 251.08,2739.11 254.5,2732.58 257.92,2739.85 261.34,2735.07 264.76,2736.46 268.19,2731.11 271.61,2739.07 275.03,2736.17 278.45,2739.07 281.87,2738.13 285.3,2731.45 288.72,2732.01 292.14,2729.75 295.56,2729.42 298.98,2728.44 302.41,2730.96 305.83,2734.22 309.25,2727.57 312.67,2734.97 316.09,2731.22 319.51,2730.92 322.94,2724 326.36,2710.8 329.78,2719 333.2,2727 336.62,2735.57 340.05,2728.55 343.47,2738.76 346.89,2728.42 350.31,2736.54 353.73,2737.73 357.15,2728.78 360.58,2737.38 364,2732.89 367.42,2735.37 370.84,2729.24 374.26,2729.78 377.69,2731.39 381.11,2740.02 384.53,2731.79 387.95,2738.04 391.37,2740.05 394.79,2740.28 398.22,2733.78 401.64,2733.97 405.06,2735.9 408.48,2738.72 411.9,2731.42 415.33,2738.51 418.75,2739.08 422.17,2739.8 425.59,2730.78 429.01,2740.8 432.44,2731.42 435.86,2734.18 439.28,2737.16 442.7,2728 446.12,2713.6 449.54,2740.64 452.97,2742.5 456.39,2742 459.81,2733.97 463.23,2732.44 466.65,2731.35 470.08,2732.13 473.5,2738.08 476.92,2741.46 480.34,2732.27 483.76,2731.03 487.18,2741.35 490.61,2736.37 494.03,2734.96 497.45,2733.11 500.87,2737.03 504.29,2739.59 507.72,2735.51 511.14,2735.14 514.56,2731.11 517.98,2740.58 521.4,2730.86 524.83,2735.93 528.25,2739.72 531.67,2731.94 535.09,2738.55 538.51,2740.95 541.93,2737.43 545.36,2739.17 548.78,2731.67 552.2,2735.28" fill="none" stroke="#3a7ec6" stroke-width="1.7" stroke-linejoin="round"/>
<text x="349.8" y="2900.3" font-size="52" fill="#dcdcdc" text-anchor="middle" font-weight="normal" stroke="#dcdcdc" stroke-width="2.08" >1.29 MB</text>
<polygon points="145.3,2943.8 281.3,2938.7 285.6,2924.7 318.7,2920.4 323,2917.5 437,2914.3 552,2911.9 552,2945.2 145.3,2945.2" fill="rgba(45,105,175,0.22)"/>
<polyline points="145.3,2943.8 281.3,2938.7 285.6,2924.7 318.7,2920.4 323,2917.5 437,2914.3 552,2911.9" fill="none" stroke="#3a7ec6" stroke-width="1.7" stroke-linejoin="round"/>
<text x="349.8" y="3101.8" font-size="52.9" fill="#dcdcdc" text-anchor="middle" font-weight="normal" stroke="#dcdcdc" stroke-width="2.12" >4106</text>
<polygon points="145.3,3145.2 281.3,3140.1 285.6,3126.1 318.7,3121.8 323,3118.9 437,3115.7 552,3113.3 552,3146.6 145.3,3146.6" fill="rgba(45,105,175,0.22)"/>
<polyline points="145.3,3145.2 281.3,3140.1 285.6,3126.1 318.7,3121.8 323,3118.9 437,3115.7 552,3113.3" fill="none" stroke="#3a7ec6" stroke-width="1.7" stroke-linejoin="round"/>
</svg></body></html>
